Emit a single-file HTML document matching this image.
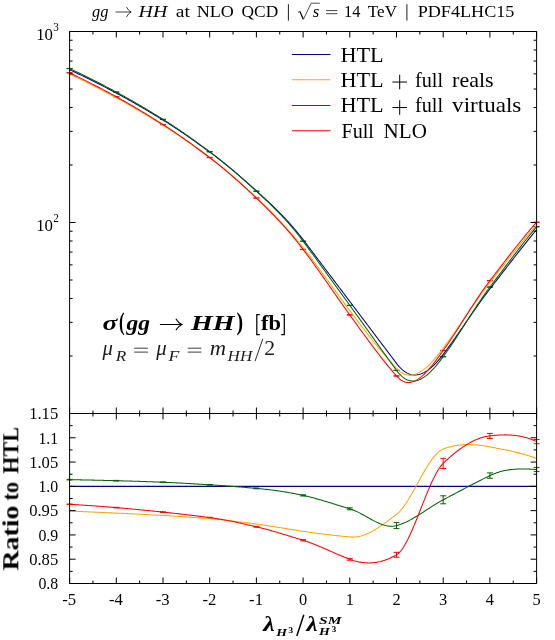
<!DOCTYPE html>
<html><head><meta charset="utf-8"><title>gg to HH</title>
<style>html,body{margin:0;padding:0;background:#fff}body{width:555px;height:640px;overflow:hidden;font-family:"Liberation Serif",serif}</style></head>
<body>
<svg width="555" height="640" viewBox="0 0 555 640" style="display:block">
<rect width="555" height="640" fill="#fff"/>
<g stroke="#006400" stroke-width="1.0" fill="none">
<path d="M69.60 68.43V68.73M66.65 68.43H72.55M66.65 68.73H72.55"/>
<path d="M116.30 91.95V92.25M113.35 91.95H119.25M113.35 92.25H119.25"/>
<path d="M163.00 119.22V119.52M160.05 119.22H165.95M160.05 119.52H165.95"/>
<path d="M209.70 151.60V151.90M206.75 151.60H212.65M206.75 151.90H212.65"/>
<path d="M256.40 191.08V191.38M253.45 191.08H259.35M253.45 191.38H259.35"/>
<path d="M303.10 241.08V241.38M300.15 241.08H306.05M300.15 241.38H306.05"/>
<path d="M349.80 305.24V305.54M346.85 305.24H352.75M346.85 305.54H352.75"/>
<path d="M396.50 370.21V370.51M393.55 370.21H399.45M393.55 370.51H399.45"/>
<path d="M443.20 356.54V356.84M440.25 356.54H446.15M440.25 356.84H446.15"/>
<path d="M489.90 286.95V287.25M486.95 286.95H492.85M486.95 287.25H492.85"/>
<path d="M536.60 226.62V226.92M533.65 226.62H539.55M533.65 226.92H539.55"/>
</g>
<g stroke="#ff0000" stroke-width="1.0" fill="none">
<path d="M69.60 72.69V72.99M66.65 72.69H72.55M66.65 72.99H72.55"/>
<path d="M116.30 96.62V96.92M113.35 96.62H119.25M113.35 96.92H119.25"/>
<path d="M163.00 124.43V124.73M160.05 124.43H165.95M160.05 124.73H165.95"/>
<path d="M209.70 157.38V157.68M206.75 157.38H212.65M206.75 157.68H212.65"/>
<path d="M256.40 197.94V198.24M253.45 197.94H259.35M253.45 198.24H259.35"/>
<path d="M303.10 249.29V249.59M300.15 249.29H306.05M300.15 249.59H306.05"/>
<path d="M349.80 314.81V315.11M346.85 314.81H352.75M346.85 315.11H352.75"/>
<path d="M396.50 375.82V376.12M393.55 375.82H399.45M393.55 376.12H399.45"/>
<path d="M443.20 350.38V350.68M440.25 350.38H446.15M440.25 350.68H446.15"/>
<path d="M489.90 280.57V280.87M486.95 280.57H492.85M486.95 280.87H492.85"/>
<path d="M536.60 222.14V222.44M533.65 222.14H539.55M533.65 222.44H539.55"/>
</g>
<g fill="none" stroke-width="1.05" stroke-linejoin="round">
<path d="M69.60 69.72 L70.60 70.18 L71.60 70.64 L72.59 71.11 L73.59 71.57 L74.59 72.04 L75.59 72.51 L76.59 72.98 L77.58 73.46 L78.58 73.93 L79.58 74.41 L80.58 74.89 L81.57 75.37 L82.57 75.85 L83.57 76.34 L84.57 76.82 L85.57 77.31 L86.56 77.80 L87.56 78.29 L88.56 78.78 L89.56 79.27 L90.56 79.77 L91.55 80.27 L92.55 80.77 L93.55 81.27 L94.55 81.77 L95.54 82.27 L96.54 82.78 L97.54 83.28 L98.54 83.79 L99.54 84.30 L100.53 84.81 L101.53 85.32 L102.53 85.84 L103.53 86.35 L104.53 86.87 L105.52 87.39 L106.52 87.90 L107.52 88.42 L108.52 88.95 L109.51 89.47 L110.51 89.99 L111.51 90.52 L112.51 91.05 L113.51 91.57 L114.50 92.10 L115.50 92.63 L116.50 93.17 L117.50 93.70 L118.50 94.24 L119.49 94.77 L120.49 95.31 L121.49 95.86 L122.49 96.40 L123.48 96.95 L124.48 97.50 L125.48 98.05 L126.48 98.60 L127.48 99.16 L128.47 99.71 L129.47 100.27 L130.47 100.83 L131.47 101.40 L132.47 101.96 L133.46 102.53 L134.46 103.10 L135.46 103.67 L136.46 104.24 L137.45 104.82 L138.45 105.39 L139.45 105.97 L140.45 106.55 L141.45 107.13 L142.44 107.71 L143.44 108.30 L144.44 108.88 L145.44 109.47 L146.44 110.06 L147.43 110.65 L148.43 111.25 L149.43 111.84 L150.43 112.44 L151.42 113.03 L152.42 113.63 L153.42 114.23 L154.42 114.84 L155.42 115.44 L156.41 116.04 L157.41 116.65 L158.41 117.26 L159.41 117.86 L160.41 118.47 L161.40 119.09 L162.40 119.70 L163.40 120.31 L164.40 120.93 L165.39 121.55 L166.39 122.17 L167.39 122.80 L168.39 123.43 L169.39 124.07 L170.38 124.71 L171.38 125.35 L172.38 125.99 L173.38 126.64 L174.38 127.29 L175.37 127.95 L176.37 128.61 L177.37 129.27 L178.37 129.93 L179.36 130.60 L180.36 131.27 L181.36 131.94 L182.36 132.62 L183.36 133.30 L184.35 133.98 L185.35 134.66 L186.35 135.35 L187.35 136.04 L188.35 136.73 L189.34 137.42 L190.34 138.12 L191.34 138.82 L192.34 139.52 L193.34 140.22 L194.33 140.93 L195.33 141.63 L196.33 142.34 L197.33 143.05 L198.32 143.77 L199.32 144.48 L200.32 145.20 L201.32 145.92 L202.32 146.64 L203.31 147.36 L204.31 148.08 L205.31 148.81 L206.31 149.53 L207.31 150.26 L208.30 150.99 L209.30 151.72 L210.30 152.46 L211.30 153.19 L212.29 153.94 L213.29 154.68 L214.29 155.44 L215.29 156.19 L216.29 156.96 L217.28 157.72 L218.28 158.50 L219.28 159.27 L220.28 160.06 L221.28 160.84 L222.27 161.63 L223.27 162.43 L224.27 163.23 L225.27 164.03 L226.26 164.84 L227.26 165.65 L228.26 166.47 L229.26 167.29 L230.26 168.11 L231.25 168.94 L232.25 169.77 L233.25 170.61 L234.25 171.45 L235.25 172.29 L236.24 173.14 L237.24 173.99 L238.24 174.84 L239.24 175.70 L240.23 176.56 L241.23 177.42 L242.23 178.29 L243.23 179.15 L244.23 180.03 L245.22 180.90 L246.22 181.78 L247.22 182.66 L248.22 183.54 L249.22 184.43 L250.21 185.32 L251.21 186.21 L252.21 187.10 L253.21 188.00 L254.20 188.90 L255.20 189.80 L256.20 190.70 L257.20 191.61 L258.20 192.51 L259.19 193.41 L260.19 194.32 L261.19 195.23 L262.19 196.14 L263.19 197.05 L264.18 197.97 L265.18 198.88 L266.18 199.81 L267.18 200.73 L268.17 201.66 L269.17 202.59 L270.17 203.53 L271.17 204.48 L272.17 205.42 L273.16 206.38 L274.16 207.34 L275.16 208.31 L276.16 209.29 L277.16 210.27 L278.15 211.26 L279.15 212.26 L280.15 213.27 L281.15 214.28 L282.14 215.31 L283.14 216.34 L284.14 217.39 L285.14 218.45 L286.14 219.51 L287.13 220.59 L288.13 221.68 L289.13 222.78 L290.13 223.90 L291.13 225.02 L292.12 226.16 L293.12 227.32 L294.12 228.49 L295.12 229.67 L296.11 230.86 L297.11 232.07 L298.11 233.30 L299.11 234.54 L300.11 235.80 L301.10 237.07 L302.10 238.36 L303.10 239.67 L304.10 240.99 L305.10 242.31 L306.09 243.62 L307.09 244.94 L308.09 246.26 L309.09 247.58 L310.09 248.90 L311.08 250.22 L312.08 251.54 L313.08 252.85 L314.08 254.17 L315.07 255.49 L316.07 256.81 L317.07 258.13 L318.07 259.45 L319.07 260.77 L320.06 262.09 L321.06 263.41 L322.06 264.73 L323.06 266.05 L324.06 267.38 L325.05 268.70 L326.05 270.02 L327.05 271.34 L328.05 272.66 L329.04 273.98 L330.04 275.30 L331.04 276.62 L332.04 277.94 L333.04 279.27 L334.03 280.59 L335.03 281.91 L336.03 283.23 L337.03 284.55 L338.03 285.87 L339.02 287.19 L340.02 288.52 L341.02 289.84 L342.02 291.16 L343.01 292.48 L344.01 293.80 L345.01 295.12 L346.01 296.44 L347.01 297.76 L348.00 299.08 L349.00 300.41 L350.00 301.73 L351.00 303.05 L352.00 304.37 L352.99 305.69 L353.99 307.01 L354.99 308.33 L355.99 309.66 L356.98 310.98 L357.98 312.30 L358.98 313.62 L359.98 314.95 L360.98 316.27 L361.97 317.59 L362.97 318.92 L363.97 320.24 L364.97 321.57 L365.97 322.89 L366.96 324.21 L367.96 325.54 L368.96 326.86 L369.96 328.19 L370.95 329.51 L371.95 330.83 L372.95 332.16 L373.95 333.48 L374.95 334.81 L375.94 336.13 L376.94 337.45 L377.94 338.78 L378.94 340.10 L379.94 341.43 L380.93 342.75 L381.93 344.07 L382.93 345.40 L383.93 346.72 L384.92 348.04 L385.92 349.37 L386.92 350.69 L387.92 352.01 L388.92 353.33 L389.91 354.65 L390.91 355.98 L391.91 357.30 L392.91 358.62 L393.91 359.94 L394.90 361.26 L395.90 362.58 L396.90 363.89 L397.90 365.14 L398.89 366.31 L399.89 367.39 L400.89 368.40 L401.89 369.33 L402.89 370.19 L403.88 370.97 L404.88 371.68 L405.88 372.31 L406.88 372.88 L407.88 373.37 L408.87 373.80 L409.87 374.15 L410.87 374.44 L411.87 374.66 L412.86 374.82 L413.86 374.92 L414.86 374.95 L415.86 374.92 L416.86 374.83 L417.85 374.68 L418.85 374.47 L419.85 374.21 L420.85 373.89 L421.85 373.51 L422.84 373.08 L423.84 372.60 L424.84 372.06 L425.84 371.48 L426.84 370.84 L427.83 370.16 L428.83 369.43 L429.83 368.66 L430.83 367.84 L431.82 366.97 L432.82 366.06 L433.82 365.12 L434.82 364.13 L435.82 363.10 L436.81 362.03 L437.81 360.92 L438.81 359.78 L439.81 358.61 L440.81 357.40 L441.80 356.15 L442.80 354.88 L443.80 353.58 L444.80 352.26 L445.79 350.93 L446.79 349.59 L447.79 348.24 L448.79 346.88 L449.79 345.50 L450.78 344.12 L451.78 342.73 L452.78 341.33 L453.78 339.93 L454.78 338.51 L455.77 337.09 L456.77 335.67 L457.77 334.24 L458.77 332.80 L459.76 331.36 L460.76 329.92 L461.76 328.47 L462.76 327.03 L463.76 325.58 L464.75 324.12 L465.75 322.67 L466.75 321.22 L467.75 319.77 L468.75 318.32 L469.74 316.87 L470.74 315.43 L471.74 313.98 L472.74 312.54 L473.73 311.11 L474.73 309.68 L475.73 308.25 L476.73 306.83 L477.73 305.42 L478.72 304.01 L479.72 302.61 L480.72 301.22 L481.72 299.84 L482.72 298.47 L483.71 297.11 L484.71 295.76 L485.71 294.42 L486.71 293.09 L487.70 291.77 L488.70 290.47 L489.70 289.18 L490.70 287.90 L491.70 286.61 L492.69 285.33 L493.69 284.04 L494.69 282.76 L495.69 281.47 L496.69 280.18 L497.68 278.89 L498.68 277.60 L499.68 276.31 L500.68 275.02 L501.67 273.73 L502.67 272.44 L503.67 271.15 L504.67 269.86 L505.67 268.57 L506.66 267.28 L507.66 266.00 L508.66 264.71 L509.66 263.42 L510.66 262.14 L511.65 260.85 L512.65 259.57 L513.65 258.29 L514.65 257.01 L515.64 255.73 L516.64 254.46 L517.64 253.18 L518.64 251.91 L519.64 250.65 L520.63 249.38 L521.63 248.12 L522.63 246.86 L523.63 245.60 L524.63 244.35 L525.62 243.09 L526.62 241.85 L527.62 240.60 L528.62 239.36 L529.61 238.13 L530.61 236.90 L531.61 235.67 L532.61 234.44 L533.61 233.23 L534.60 232.01 L535.60 230.80 L536.60 229.60" stroke="#00008b"/>
<path d="M69.60 74.06 L70.60 74.53 L71.60 74.99 L72.59 75.47 L73.59 75.94 L74.59 76.41 L75.59 76.89 L76.59 77.37 L77.58 77.85 L78.58 78.33 L79.58 78.82 L80.58 79.30 L81.57 79.79 L82.57 80.28 L83.57 80.77 L84.57 81.27 L85.57 81.76 L86.56 82.26 L87.56 82.76 L88.56 83.26 L89.56 83.76 L90.56 84.26 L91.55 84.77 L92.55 85.27 L93.55 85.78 L94.55 86.29 L95.54 86.80 L96.54 87.31 L97.54 87.83 L98.54 88.34 L99.54 88.86 L100.53 89.38 L101.53 89.90 L102.53 90.42 L103.53 90.94 L104.53 91.47 L105.52 92.00 L106.52 92.52 L107.52 93.05 L108.52 93.58 L109.51 94.11 L110.51 94.64 L111.51 95.18 L112.51 95.71 L113.51 96.25 L114.50 96.79 L115.50 97.33 L116.50 97.87 L117.50 98.41 L118.50 98.95 L119.49 99.50 L120.49 100.05 L121.49 100.60 L122.49 101.15 L123.48 101.71 L124.48 102.26 L125.48 102.82 L126.48 103.39 L127.48 103.95 L128.47 104.52 L129.47 105.09 L130.47 105.66 L131.47 106.23 L132.47 106.80 L133.46 107.38 L134.46 107.96 L135.46 108.54 L136.46 109.12 L137.45 109.70 L138.45 110.29 L139.45 110.88 L140.45 111.46 L141.45 112.06 L142.44 112.65 L143.44 113.24 L144.44 113.84 L145.44 114.44 L146.44 115.04 L147.43 115.64 L148.43 116.24 L149.43 116.84 L150.43 117.45 L151.42 118.06 L152.42 118.66 L153.42 119.27 L154.42 119.89 L155.42 120.50 L156.41 121.11 L157.41 121.73 L158.41 122.34 L159.41 122.96 L160.41 123.58 L161.40 124.20 L162.40 124.82 L163.40 125.45 L164.40 126.07 L165.39 126.70 L166.39 127.34 L167.39 127.98 L168.39 128.62 L169.39 129.26 L170.38 129.91 L171.38 130.57 L172.38 131.22 L173.38 131.88 L174.38 132.54 L175.37 133.21 L176.37 133.88 L177.37 134.55 L178.37 135.23 L179.36 135.91 L180.36 136.59 L181.36 137.27 L182.36 137.96 L183.36 138.65 L184.35 139.35 L185.35 140.04 L186.35 140.74 L187.35 141.44 L188.35 142.15 L189.34 142.85 L190.34 143.56 L191.34 144.27 L192.34 144.99 L193.34 145.70 L194.33 146.42 L195.33 147.14 L196.33 147.87 L197.33 148.59 L198.32 149.32 L199.32 150.05 L200.32 150.78 L201.32 151.51 L202.32 152.24 L203.31 152.98 L204.31 153.72 L205.31 154.46 L206.31 155.20 L207.31 155.94 L208.30 156.69 L209.30 157.43 L210.30 158.18 L211.30 158.93 L212.29 159.69 L213.29 160.46 L214.29 161.22 L215.29 162.00 L216.29 162.78 L217.28 163.56 L218.28 164.35 L219.28 165.15 L220.28 165.94 L221.28 166.75 L222.27 167.56 L223.27 168.37 L224.27 169.19 L225.27 170.01 L226.26 170.84 L227.26 171.67 L228.26 172.51 L229.26 173.35 L230.26 174.19 L231.25 175.04 L232.25 175.89 L233.25 176.75 L234.25 177.61 L235.25 178.47 L236.24 179.34 L237.24 180.21 L238.24 181.09 L239.24 181.97 L240.23 182.85 L241.23 183.73 L242.23 184.62 L243.23 185.52 L244.23 186.41 L245.22 187.31 L246.22 188.21 L247.22 189.12 L248.22 190.03 L249.22 190.94 L250.21 191.85 L251.21 192.77 L252.21 193.69 L253.21 194.61 L254.20 195.54 L255.20 196.47 L256.20 197.40 L257.20 198.33 L258.20 199.27 L259.19 200.21 L260.19 201.15 L261.19 202.11 L262.19 203.06 L263.19 204.02 L264.18 204.99 L265.18 205.96 L266.18 206.93 L267.18 207.91 L268.17 208.90 L269.17 209.89 L270.17 210.89 L271.17 211.89 L272.17 212.90 L273.16 213.92 L274.16 214.94 L275.16 215.97 L276.16 217.00 L277.16 218.04 L278.15 219.09 L279.15 220.14 L280.15 221.20 L281.15 222.27 L282.14 223.34 L283.14 224.43 L284.14 225.51 L285.14 226.61 L286.14 227.71 L287.13 228.83 L288.13 229.94 L289.13 231.07 L290.13 232.21 L291.13 233.35 L292.12 234.50 L293.12 235.66 L294.12 236.82 L295.12 238.00 L296.11 239.19 L297.11 240.38 L298.11 241.58 L299.11 242.79 L300.11 244.01 L301.10 245.24 L302.10 246.48 L303.10 247.73 L304.10 248.98 L305.10 250.25 L306.09 251.52 L307.09 252.80 L308.09 254.09 L309.09 255.38 L310.09 256.68 L311.08 257.99 L312.08 259.31 L313.08 260.62 L314.08 261.95 L315.07 263.28 L316.07 264.62 L317.07 265.95 L318.07 267.30 L319.07 268.65 L320.06 270.00 L321.06 271.35 L322.06 272.71 L323.06 274.07 L324.06 275.44 L325.05 276.80 L326.05 278.17 L327.05 279.54 L328.05 280.91 L329.04 282.29 L330.04 283.66 L331.04 285.03 L332.04 286.41 L333.04 287.78 L334.03 289.16 L335.03 290.53 L336.03 291.90 L337.03 293.27 L338.03 294.64 L339.02 296.01 L340.02 297.38 L341.02 298.74 L342.02 300.10 L343.01 301.46 L344.01 302.82 L345.01 304.17 L346.01 305.51 L347.01 306.86 L348.00 308.20 L349.00 309.53 L350.00 310.86 L351.00 312.19 L352.00 313.51 L352.99 314.84 L353.99 316.16 L354.99 317.48 L355.99 318.80 L356.98 320.12 L357.98 321.44 L358.98 322.75 L359.98 324.06 L360.98 325.36 L361.97 326.67 L362.97 327.97 L363.97 329.26 L364.97 330.56 L365.97 331.85 L366.96 333.13 L367.96 334.41 L368.96 335.69 L369.96 336.96 L370.95 338.22 L371.95 339.49 L372.95 340.74 L373.95 341.99 L374.95 343.23 L375.94 344.47 L376.94 345.70 L377.94 346.93 L378.94 348.15 L379.94 349.36 L380.93 350.57 L381.93 351.76 L382.93 352.95 L383.93 354.14 L384.92 355.31 L385.92 356.48 L386.92 357.64 L387.92 358.79 L388.92 359.93 L389.91 361.06 L390.91 362.19 L391.91 363.30 L392.91 364.41 L393.91 365.50 L394.90 366.59 L395.90 367.66 L396.90 368.72 L397.90 369.71 L398.89 370.60 L399.89 371.41 L400.89 372.14 L401.89 372.78 L402.89 373.35 L403.88 373.83 L404.88 374.24 L405.88 374.57 L406.88 374.82 L407.88 375.01 L408.87 375.12 L409.87 375.16 L410.87 375.14 L411.87 375.05 L412.86 374.89 L413.86 374.68 L414.86 374.40 L415.86 374.06 L416.86 373.67 L417.85 373.22 L418.85 372.71 L419.85 372.16 L420.85 371.55 L421.85 370.89 L422.84 370.19 L423.84 369.44 L424.84 368.65 L425.84 367.81 L426.84 366.93 L427.83 366.02 L428.83 365.06 L429.83 364.08 L430.83 363.05 L431.82 362.00 L432.82 360.91 L433.82 359.80 L434.82 358.65 L435.82 357.49 L436.81 356.30 L437.81 355.08 L438.81 353.85 L439.81 352.59 L440.81 351.32 L441.80 350.04 L442.80 348.74 L443.80 347.42 L444.80 346.10 L445.79 344.76 L446.79 343.41 L447.79 342.04 L448.79 340.66 L449.79 339.28 L450.78 337.88 L451.78 336.47 L452.78 335.06 L453.78 333.64 L454.78 332.21 L455.77 330.77 L456.77 329.32 L457.77 327.88 L458.77 326.42 L459.76 324.97 L460.76 323.50 L461.76 322.04 L462.76 320.58 L463.76 319.11 L464.75 317.64 L465.75 316.17 L466.75 314.71 L467.75 313.24 L468.75 311.78 L469.74 310.32 L470.74 308.86 L471.74 307.41 L472.74 305.96 L473.73 304.51 L474.73 303.08 L475.73 301.65 L476.73 300.22 L477.73 298.81 L478.72 297.40 L479.72 296.00 L480.72 294.62 L481.72 293.24 L482.72 291.87 L483.71 290.52 L484.71 289.18 L485.71 287.85 L486.71 286.54 L487.70 285.24 L488.70 283.96 L489.70 282.69 L490.70 281.44 L491.70 280.18 L492.69 278.92 L493.69 277.66 L494.69 276.40 L495.69 275.14 L496.69 273.88 L497.68 272.62 L498.68 271.36 L499.68 270.10 L500.68 268.84 L501.67 267.58 L502.67 266.32 L503.67 265.06 L504.67 263.80 L505.67 262.54 L506.66 261.28 L507.66 260.03 L508.66 258.78 L509.66 257.52 L510.66 256.27 L511.65 255.03 L512.65 253.78 L513.65 252.54 L514.65 251.30 L515.64 250.06 L516.64 248.82 L517.64 247.59 L518.64 246.36 L519.64 245.14 L520.63 243.92 L521.63 242.70 L522.63 241.48 L523.63 240.27 L524.63 239.07 L525.62 237.87 L526.62 236.67 L527.62 235.48 L528.62 234.29 L529.61 233.11 L530.61 231.93 L531.61 230.76 L532.61 229.59 L533.61 228.43 L534.60 227.28 L535.60 226.13 L536.60 224.99" stroke="#ffa500"/>
<path d="M69.60 68.58 L70.60 69.05 L71.60 69.51 L72.59 69.98 L73.59 70.45 L74.59 70.92 L75.59 71.39 L76.59 71.87 L77.58 72.34 L78.58 72.82 L79.58 73.30 L80.58 73.79 L81.57 74.27 L82.57 74.76 L83.57 75.24 L84.57 75.73 L85.57 76.22 L86.56 76.72 L87.56 77.21 L88.56 77.71 L89.56 78.20 L90.56 78.70 L91.55 79.20 L92.55 79.71 L93.55 80.21 L94.55 80.72 L95.54 81.22 L96.54 81.73 L97.54 82.24 L98.54 82.75 L99.54 83.27 L100.53 83.78 L101.53 84.30 L102.53 84.82 L103.53 85.34 L104.53 85.86 L105.52 86.38 L106.52 86.90 L107.52 87.43 L108.52 87.95 L109.51 88.48 L110.51 89.01 L111.51 89.54 L112.51 90.07 L113.51 90.60 L114.50 91.14 L115.50 91.67 L116.50 92.21 L117.50 92.74 L118.50 93.28 L119.49 93.83 L120.49 94.37 L121.49 94.92 L122.49 95.47 L123.48 96.02 L124.48 96.57 L125.48 97.13 L126.48 97.69 L127.48 98.25 L128.47 98.81 L129.47 99.37 L130.47 99.94 L131.47 100.51 L132.47 101.08 L133.46 101.65 L134.46 102.23 L135.46 102.80 L136.46 103.38 L137.45 103.96 L138.45 104.54 L139.45 105.12 L140.45 105.71 L141.45 106.30 L142.44 106.89 L143.44 107.48 L144.44 108.07 L145.44 108.66 L146.44 109.26 L147.43 109.86 L148.43 110.45 L149.43 111.05 L150.43 111.66 L151.42 112.26 L152.42 112.87 L153.42 113.47 L154.42 114.08 L155.42 114.69 L156.41 115.30 L157.41 115.91 L158.41 116.53 L159.41 117.14 L160.41 117.76 L161.40 118.38 L162.40 119.00 L163.40 119.62 L164.40 120.24 L165.39 120.87 L166.39 121.50 L167.39 122.13 L168.39 122.77 L169.39 123.42 L170.38 124.06 L171.38 124.71 L172.38 125.37 L173.38 126.02 L174.38 126.68 L175.37 127.35 L176.37 128.02 L177.37 128.69 L178.37 129.36 L179.36 130.03 L180.36 130.71 L181.36 131.40 L182.36 132.08 L183.36 132.77 L184.35 133.46 L185.35 134.15 L186.35 134.85 L187.35 135.55 L188.35 136.25 L189.34 136.95 L190.34 137.66 L191.34 138.37 L192.34 139.08 L193.34 139.79 L194.33 140.51 L195.33 141.22 L196.33 141.94 L197.33 142.66 L198.32 143.39 L199.32 144.11 L200.32 144.84 L201.32 145.57 L202.32 146.30 L203.31 147.03 L204.31 147.76 L205.31 148.50 L206.31 149.24 L207.31 149.97 L208.30 150.71 L209.30 151.45 L210.30 152.20 L211.30 152.94 L212.29 153.70 L213.29 154.45 L214.29 155.22 L215.29 155.99 L216.29 156.76 L217.28 157.54 L218.28 158.32 L219.28 159.11 L220.28 159.91 L221.28 160.70 L222.27 161.51 L223.27 162.31 L224.27 163.13 L225.27 163.94 L226.26 164.76 L227.26 165.59 L228.26 166.42 L229.26 167.25 L230.26 168.09 L231.25 168.93 L232.25 169.78 L233.25 170.62 L234.25 171.48 L235.25 172.33 L236.24 173.19 L237.24 174.06 L238.24 174.93 L239.24 175.80 L240.23 176.67 L241.23 177.55 L242.23 178.43 L243.23 179.31 L244.23 180.20 L245.22 181.09 L246.22 181.98 L247.22 182.88 L248.22 183.77 L249.22 184.67 L250.21 185.58 L251.21 186.48 L252.21 187.39 L253.21 188.30 L254.20 189.22 L255.20 190.13 L256.20 191.05 L257.20 191.97 L258.20 192.89 L259.19 193.81 L260.19 194.73 L261.19 195.66 L262.19 196.58 L263.19 197.52 L264.18 198.45 L265.18 199.39 L266.18 200.33 L267.18 201.28 L268.17 202.23 L269.17 203.18 L270.17 204.14 L271.17 205.11 L272.17 206.08 L273.16 207.06 L274.16 208.05 L275.16 209.04 L276.16 210.04 L277.16 211.05 L278.15 212.07 L279.15 213.09 L280.15 214.13 L281.15 215.17 L282.14 216.23 L283.14 217.29 L284.14 218.37 L285.14 219.45 L286.14 220.55 L287.13 221.65 L288.13 222.77 L289.13 223.91 L290.13 225.05 L291.13 226.21 L292.12 227.38 L293.12 228.56 L294.12 229.76 L295.12 230.97 L296.11 232.20 L297.11 233.44 L298.11 234.70 L299.11 235.97 L300.11 237.26 L301.10 238.57 L302.10 239.89 L303.10 241.23 L304.10 242.58 L305.10 243.93 L306.09 245.29 L307.09 246.64 L308.09 248.00 L309.09 249.36 L310.09 250.71 L311.08 252.07 L312.08 253.44 L313.08 254.80 L314.08 256.16 L315.07 257.53 L316.07 258.90 L317.07 260.26 L318.07 261.63 L319.07 263.00 L320.06 264.37 L321.06 265.75 L322.06 267.12 L323.06 268.49 L324.06 269.87 L325.05 271.24 L326.05 272.62 L327.05 273.99 L328.05 275.37 L329.04 276.74 L330.04 278.12 L331.04 279.50 L332.04 280.88 L333.04 282.25 L334.03 283.63 L335.03 285.01 L336.03 286.39 L337.03 287.77 L338.03 289.14 L339.02 290.52 L340.02 291.90 L341.02 293.28 L342.02 294.66 L343.01 296.03 L344.01 297.41 L345.01 298.79 L346.01 300.16 L347.01 301.54 L348.00 302.91 L349.00 304.29 L350.00 305.66 L351.00 307.04 L352.00 308.41 L352.99 309.79 L353.99 311.17 L354.99 312.56 L355.99 313.94 L356.98 315.33 L357.98 316.72 L358.98 318.11 L359.98 319.50 L360.98 320.89 L361.97 322.28 L362.97 323.68 L363.97 325.07 L364.97 326.47 L365.97 327.86 L366.96 329.26 L367.96 330.66 L368.96 332.06 L369.96 333.45 L370.95 334.85 L371.95 336.25 L372.95 337.65 L373.95 339.05 L374.95 340.44 L375.94 341.84 L376.94 343.24 L377.94 344.63 L378.94 346.03 L379.94 347.43 L380.93 348.82 L381.93 350.21 L382.93 351.60 L383.93 352.99 L384.92 354.38 L385.92 355.77 L386.92 357.16 L387.92 358.54 L388.92 359.92 L389.91 361.30 L390.91 362.68 L391.91 364.06 L392.91 365.43 L393.91 366.80 L394.90 368.17 L395.90 369.54 L396.90 370.90 L397.90 372.18 L398.89 373.36 L399.89 374.45 L400.89 375.46 L401.89 376.37 L402.89 377.20 L403.88 377.94 L404.88 378.59 L405.88 379.17 L406.88 379.66 L407.88 380.08 L408.87 380.42 L409.87 380.68 L410.87 380.86 L411.87 380.98 L412.86 381.02 L413.86 380.99 L414.86 380.90 L415.86 380.74 L416.86 380.51 L417.85 380.23 L418.85 379.88 L419.85 379.47 L420.85 379.00 L421.85 378.47 L422.84 377.90 L423.84 377.26 L424.84 376.58 L425.84 375.84 L426.84 375.06 L427.83 374.23 L428.83 373.35 L429.83 372.43 L430.83 371.47 L431.82 370.47 L432.82 369.43 L433.82 368.35 L434.82 367.24 L435.82 366.09 L436.81 364.91 L437.81 363.70 L438.81 362.46 L439.81 361.19 L440.81 359.89 L441.80 358.57 L442.80 357.23 L443.80 355.87 L444.80 354.49 L445.79 353.09 L446.79 351.68 L447.79 350.25 L448.79 348.81 L449.79 347.35 L450.78 345.88 L451.78 344.40 L452.78 342.91 L453.78 341.41 L454.78 339.90 L455.77 338.38 L456.77 336.85 L457.77 335.32 L458.77 333.78 L459.76 332.23 L460.76 330.68 L461.76 329.13 L462.76 327.57 L463.76 326.01 L464.75 324.45 L465.75 322.89 L466.75 321.33 L467.75 319.77 L468.75 318.21 L469.74 316.65 L470.74 315.10 L471.74 313.56 L472.74 312.01 L473.73 310.48 L474.73 308.95 L475.73 307.43 L476.73 305.91 L477.73 304.41 L478.72 302.91 L479.72 301.43 L480.72 299.96 L481.72 298.50 L482.72 297.05 L483.71 295.62 L484.71 294.20 L485.71 292.80 L486.71 291.42 L487.70 290.05 L488.70 288.70 L489.70 287.37 L490.70 286.05 L491.70 284.73 L492.69 283.41 L493.69 282.09 L494.69 280.76 L495.69 279.44 L496.69 278.11 L497.68 276.79 L498.68 275.46 L499.68 274.14 L500.68 272.81 L501.67 271.49 L502.67 270.16 L503.67 268.84 L504.67 267.51 L505.67 266.19 L506.66 264.87 L507.66 263.55 L508.66 262.23 L509.66 260.91 L510.66 259.60 L511.65 258.29 L512.65 256.98 L513.65 255.67 L514.65 254.37 L515.64 253.06 L516.64 251.77 L517.64 250.47 L518.64 249.18 L519.64 247.89 L520.63 246.61 L521.63 245.33 L522.63 244.05 L523.63 242.78 L524.63 241.52 L525.62 240.26 L526.62 239.00 L527.62 237.75 L528.62 236.51 L529.61 235.27 L530.61 234.03 L531.61 232.81 L532.61 231.58 L533.61 230.37 L534.60 229.16 L535.60 227.96 L536.60 226.77" stroke="#006400"/>
<path d="M69.60 72.84 L70.60 73.31 L71.60 73.79 L72.59 74.26 L73.59 74.74 L74.59 75.22 L75.59 75.70 L76.59 76.18 L77.58 76.66 L78.58 77.15 L79.58 77.64 L80.58 78.13 L81.57 78.62 L82.57 79.11 L83.57 79.61 L84.57 80.11 L85.57 80.61 L86.56 81.11 L87.56 81.61 L88.56 82.11 L89.56 82.62 L90.56 83.13 L91.55 83.64 L92.55 84.15 L93.55 84.66 L94.55 85.18 L95.54 85.69 L96.54 86.21 L97.54 86.73 L98.54 87.25 L99.54 87.77 L100.53 88.30 L101.53 88.82 L102.53 89.35 L103.53 89.88 L104.53 90.41 L105.52 90.94 L106.52 91.47 L107.52 92.01 L108.52 92.54 L109.51 93.08 L110.51 93.62 L111.51 94.16 L112.51 94.70 L113.51 95.24 L114.50 95.79 L115.50 96.33 L116.50 96.88 L117.50 97.43 L118.50 97.98 L119.49 98.53 L120.49 99.09 L121.49 99.65 L122.49 100.21 L123.48 100.77 L124.48 101.33 L125.48 101.90 L126.48 102.47 L127.48 103.04 L128.47 103.62 L129.47 104.19 L130.47 104.77 L131.47 105.35 L132.47 105.93 L133.46 106.52 L134.46 107.10 L135.46 107.69 L136.46 108.28 L137.45 108.87 L138.45 109.47 L139.45 110.06 L140.45 110.66 L141.45 111.26 L142.44 111.86 L143.44 112.46 L144.44 113.07 L145.44 113.67 L146.44 114.28 L147.43 114.89 L148.43 115.50 L149.43 116.11 L150.43 116.73 L151.42 117.34 L152.42 117.96 L153.42 118.58 L154.42 119.20 L155.42 119.82 L156.41 120.44 L157.41 121.07 L158.41 121.69 L159.41 122.32 L160.41 122.95 L161.40 123.57 L162.40 124.20 L163.40 124.84 L164.40 125.47 L165.39 126.11 L166.39 126.75 L167.39 127.40 L168.39 128.05 L169.39 128.70 L170.38 129.36 L171.38 130.02 L172.38 130.69 L173.38 131.35 L174.38 132.02 L175.37 132.70 L176.37 133.38 L177.37 134.06 L178.37 134.74 L179.36 135.43 L180.36 136.12 L181.36 136.81 L182.36 137.51 L183.36 138.21 L184.35 138.91 L185.35 139.62 L186.35 140.32 L187.35 141.03 L188.35 141.75 L189.34 142.46 L190.34 143.18 L191.34 143.90 L192.34 144.62 L193.34 145.35 L194.33 146.08 L195.33 146.81 L196.33 147.54 L197.33 148.27 L198.32 149.01 L199.32 149.75 L200.32 150.49 L201.32 151.23 L202.32 151.97 L203.31 152.72 L204.31 153.47 L205.31 154.22 L206.31 154.97 L207.31 155.72 L208.30 156.47 L209.30 157.23 L210.30 157.99 L211.30 158.75 L212.29 159.52 L213.29 160.29 L214.29 161.07 L215.29 161.86 L216.29 162.65 L217.28 163.45 L218.28 164.25 L219.28 165.06 L220.28 165.87 L221.28 166.69 L222.27 167.51 L223.27 168.34 L224.27 169.17 L225.27 170.01 L226.26 170.85 L227.26 171.70 L228.26 172.55 L229.26 173.40 L230.26 174.26 L231.25 175.13 L232.25 176.00 L233.25 176.87 L234.25 177.75 L235.25 178.63 L236.24 179.51 L237.24 180.40 L238.24 181.29 L239.24 182.19 L240.23 183.09 L241.23 183.99 L242.23 184.90 L243.23 185.81 L244.23 186.72 L245.22 187.64 L246.22 188.56 L247.22 189.48 L248.22 190.41 L249.22 191.33 L250.21 192.27 L251.21 193.20 L252.21 194.13 L253.21 195.07 L254.20 196.01 L255.20 196.96 L256.20 197.90 L257.20 198.85 L258.20 199.80 L259.19 200.76 L260.19 201.72 L261.19 202.69 L262.19 203.65 L263.19 204.63 L264.18 205.61 L265.18 206.59 L266.18 207.58 L267.18 208.57 L268.17 209.57 L269.17 210.58 L270.17 211.59 L271.17 212.61 L272.17 213.63 L273.16 214.66 L274.16 215.70 L275.16 216.75 L276.16 217.80 L277.16 218.85 L278.15 219.92 L279.15 220.99 L280.15 222.07 L281.15 223.16 L282.14 224.26 L283.14 225.36 L284.14 226.47 L285.14 227.60 L286.14 228.73 L287.13 229.86 L288.13 231.01 L289.13 232.17 L290.13 233.34 L291.13 234.51 L292.12 235.70 L293.12 236.89 L294.12 238.10 L295.12 239.32 L296.11 240.54 L297.11 241.78 L298.11 243.03 L299.11 244.29 L300.11 245.56 L301.10 246.84 L302.10 248.13 L303.10 249.44 L304.10 250.75 L305.10 252.08 L306.09 253.41 L307.09 254.74 L308.09 256.09 L309.09 257.44 L310.09 258.80 L311.08 260.16 L312.08 261.53 L313.08 262.91 L314.08 264.29 L315.07 265.68 L316.07 267.07 L317.07 268.46 L318.07 269.86 L319.07 271.27 L320.06 272.68 L321.06 274.09 L322.06 275.50 L323.06 276.92 L324.06 278.34 L325.05 279.76 L326.05 281.19 L327.05 282.61 L328.05 284.04 L329.04 285.47 L330.04 286.90 L331.04 288.33 L332.04 289.76 L333.04 291.19 L334.03 292.62 L335.03 294.05 L336.03 295.48 L337.03 296.90 L338.03 298.33 L339.02 299.76 L340.02 301.18 L341.02 302.60 L342.02 304.02 L343.01 305.43 L344.01 306.84 L345.01 308.25 L346.01 309.66 L347.01 311.06 L348.00 312.46 L349.00 313.85 L350.00 315.24 L351.00 316.62 L352.00 318.01 L352.99 319.40 L353.99 320.78 L354.99 322.17 L355.99 323.55 L356.98 324.93 L357.98 326.31 L358.98 327.69 L359.98 329.07 L360.98 330.45 L361.97 331.82 L362.97 333.19 L363.97 334.55 L364.97 335.92 L365.97 337.28 L366.96 338.63 L367.96 339.99 L368.96 341.34 L369.96 342.68 L370.95 344.02 L371.95 345.35 L372.95 346.68 L373.95 348.01 L374.95 349.32 L375.94 350.64 L376.94 351.94 L377.94 353.24 L378.94 354.54 L379.94 355.82 L380.93 357.10 L381.93 358.38 L382.93 359.64 L383.93 360.90 L384.92 362.15 L385.92 363.39 L386.92 364.62 L387.92 365.84 L388.92 367.06 L389.91 368.26 L390.91 369.46 L391.91 370.65 L392.91 371.82 L393.91 372.99 L394.90 374.14 L395.90 375.29 L396.90 376.42 L397.90 377.45 L398.89 378.39 L399.89 379.22 L400.89 379.95 L401.89 380.58 L402.89 381.12 L403.88 381.57 L404.88 381.92 L405.88 382.19 L406.88 382.37 L407.88 382.47 L408.87 382.49 L409.87 382.42 L410.87 382.29 L411.87 382.07 L412.86 381.79 L413.86 381.43 L414.86 381.01 L415.86 380.52 L416.86 379.97 L417.85 379.36 L418.85 378.69 L419.85 377.96 L420.85 377.18 L421.85 376.35 L422.84 375.47 L423.84 374.54 L424.84 373.57 L425.84 372.56 L426.84 371.50 L427.83 370.41 L428.83 369.28 L429.83 368.12 L430.83 366.93 L431.82 365.71 L432.82 364.47 L433.82 363.20 L434.82 361.91 L435.82 360.60 L436.81 359.27 L437.81 357.93 L438.81 356.58 L439.81 355.21 L440.81 353.84 L441.80 352.46 L442.80 351.08 L443.80 349.70 L444.80 348.30 L445.79 346.88 L446.79 345.45 L447.79 344.00 L448.79 342.54 L449.79 341.07 L450.78 339.58 L451.78 338.08 L452.78 336.58 L453.78 335.06 L454.78 333.53 L455.77 332.00 L456.77 330.46 L457.77 328.91 L458.77 327.35 L459.76 325.80 L460.76 324.23 L461.76 322.67 L462.76 321.10 L463.76 319.53 L464.75 317.96 L465.75 316.39 L466.75 314.83 L467.75 313.26 L468.75 311.70 L469.74 310.14 L470.74 308.58 L471.74 307.03 L472.74 305.49 L473.73 303.95 L474.73 302.42 L475.73 300.90 L476.73 299.39 L477.73 297.89 L478.72 296.40 L479.72 294.92 L480.72 293.46 L481.72 292.01 L482.72 290.57 L483.71 289.15 L484.71 287.74 L485.71 286.35 L486.71 284.98 L487.70 283.63 L488.70 282.30 L489.70 280.98 L490.70 279.68 L491.70 278.38 L492.69 277.08 L493.69 275.78 L494.69 274.48 L495.69 273.18 L496.69 271.88 L497.68 270.58 L498.68 269.28 L499.68 267.99 L500.68 266.69 L501.67 265.39 L502.67 264.10 L503.67 262.80 L504.67 261.51 L505.67 260.22 L506.66 258.93 L507.66 257.65 L508.66 256.37 L509.66 255.09 L510.66 253.81 L511.65 252.53 L512.65 251.26 L513.65 250.00 L514.65 248.73 L515.64 247.47 L516.64 246.22 L517.64 244.97 L518.64 243.72 L519.64 242.48 L520.63 241.24 L521.63 240.01 L522.63 238.79 L523.63 237.57 L524.63 236.35 L525.62 235.14 L526.62 233.94 L527.62 232.74 L528.62 231.55 L529.61 230.37 L530.61 229.19 L531.61 228.02 L532.61 226.86 L533.61 225.70 L534.60 224.56 L535.60 223.42 L536.60 222.29" stroke="#ff0000"/>
</g>
<g stroke="#006400" stroke-width="1.0" fill="none">
<path d="M69.60 479.35V479.95M66.65 479.35H72.55M66.65 479.95H72.55"/>
<path d="M116.30 480.40V481.00M113.35 480.40H119.25M113.35 481.00H119.25"/>
<path d="M163.00 481.95V482.55M160.05 481.95H165.95M160.05 482.55H165.95"/>
<path d="M209.70 484.50V485.10M206.75 484.50H212.65M206.75 485.10H212.65"/>
<path d="M256.40 488.00V488.80M253.45 488.00H259.35M253.45 488.80H259.35"/>
<path d="M303.10 494.80V496.00M300.15 494.80H306.05M300.15 496.00H306.05"/>
<path d="M349.80 507.80V509.80M346.85 507.80H352.75M346.85 509.80H352.75"/>
<path d="M396.50 522.60V528.60M393.55 522.60H399.45M393.55 528.60H399.45"/>
<path d="M443.20 495.80V503.80M440.25 495.80H446.15M440.25 503.80H446.15"/>
<path d="M489.90 472.90V478.30M486.95 472.90H492.85M486.95 478.30H492.85"/>
<path d="M536.60 467.40V471.60M533.65 467.40H539.55M533.65 471.60H539.55"/>
</g>
<g stroke="#ff0000" stroke-width="1.0" fill="none">
<path d="M69.60 504.00V504.60M66.65 504.00H72.55M66.65 504.60H72.55"/>
<path d="M116.30 507.30V507.90M113.35 507.30H119.25M113.35 507.90H119.25"/>
<path d="M163.00 511.80V512.40M160.05 511.80H165.95M160.05 512.40H165.95"/>
<path d="M209.70 517.30V517.90M206.75 517.30H212.65M206.75 517.90H212.65"/>
<path d="M256.40 526.40V527.20M253.45 526.40H259.35M253.45 527.20H259.35"/>
<path d="M303.10 539.70V540.90M300.15 539.70H306.05M300.15 540.90H306.05"/>
<path d="M349.80 558.40V560.20M346.85 558.40H352.75M346.85 560.20H352.75"/>
<path d="M396.50 552.35V557.25M393.55 552.35H399.45M393.55 557.25H399.45"/>
<path d="M443.20 458.30V468.50M440.25 458.30H446.15M440.25 468.50H446.15"/>
<path d="M489.90 433.40V438.40M486.95 433.40H492.85M486.95 438.40H492.85"/>
<path d="M536.60 439.50V443.70M533.65 439.50H539.55M533.65 443.70H539.55"/>
</g>
<g fill="none" stroke-width="1.05" stroke-linejoin="round">
<path d="M69.60 486.36 L70.60 486.36 L71.60 486.36 L72.59 486.36 L73.59 486.36 L74.59 486.36 L75.59 486.36 L76.59 486.36 L77.58 486.36 L78.58 486.36 L79.58 486.36 L80.58 486.36 L81.57 486.36 L82.57 486.36 L83.57 486.36 L84.57 486.36 L85.57 486.36 L86.56 486.36 L87.56 486.36 L88.56 486.36 L89.56 486.36 L90.56 486.36 L91.55 486.36 L92.55 486.36 L93.55 486.36 L94.55 486.36 L95.54 486.36 L96.54 486.36 L97.54 486.36 L98.54 486.36 L99.54 486.36 L100.53 486.36 L101.53 486.36 L102.53 486.36 L103.53 486.36 L104.53 486.36 L105.52 486.36 L106.52 486.36 L107.52 486.36 L108.52 486.36 L109.51 486.36 L110.51 486.36 L111.51 486.36 L112.51 486.36 L113.51 486.36 L114.50 486.36 L115.50 486.36 L116.50 486.36 L117.50 486.36 L118.50 486.36 L119.49 486.36 L120.49 486.36 L121.49 486.36 L122.49 486.36 L123.48 486.36 L124.48 486.36 L125.48 486.36 L126.48 486.36 L127.48 486.36 L128.47 486.36 L129.47 486.36 L130.47 486.36 L131.47 486.36 L132.47 486.36 L133.46 486.36 L134.46 486.36 L135.46 486.36 L136.46 486.36 L137.45 486.36 L138.45 486.36 L139.45 486.36 L140.45 486.36 L141.45 486.36 L142.44 486.36 L143.44 486.36 L144.44 486.36 L145.44 486.36 L146.44 486.36 L147.43 486.36 L148.43 486.36 L149.43 486.36 L150.43 486.36 L151.42 486.36 L152.42 486.36 L153.42 486.36 L154.42 486.36 L155.42 486.36 L156.41 486.36 L157.41 486.36 L158.41 486.36 L159.41 486.36 L160.41 486.36 L161.40 486.36 L162.40 486.36 L163.40 486.36 L164.40 486.36 L165.39 486.36 L166.39 486.36 L167.39 486.36 L168.39 486.36 L169.39 486.36 L170.38 486.36 L171.38 486.36 L172.38 486.36 L173.38 486.36 L174.38 486.36 L175.37 486.36 L176.37 486.36 L177.37 486.36 L178.37 486.36 L179.36 486.36 L180.36 486.36 L181.36 486.36 L182.36 486.36 L183.36 486.36 L184.35 486.36 L185.35 486.36 L186.35 486.36 L187.35 486.36 L188.35 486.36 L189.34 486.36 L190.34 486.36 L191.34 486.36 L192.34 486.36 L193.34 486.36 L194.33 486.36 L195.33 486.36 L196.33 486.36 L197.33 486.36 L198.32 486.36 L199.32 486.36 L200.32 486.36 L201.32 486.36 L202.32 486.36 L203.31 486.36 L204.31 486.36 L205.31 486.36 L206.31 486.36 L207.31 486.36 L208.30 486.36 L209.30 486.36 L210.30 486.36 L211.30 486.36 L212.29 486.36 L213.29 486.36 L214.29 486.36 L215.29 486.36 L216.29 486.36 L217.28 486.36 L218.28 486.36 L219.28 486.36 L220.28 486.36 L221.28 486.36 L222.27 486.36 L223.27 486.36 L224.27 486.36 L225.27 486.36 L226.26 486.36 L227.26 486.36 L228.26 486.36 L229.26 486.36 L230.26 486.36 L231.25 486.36 L232.25 486.36 L233.25 486.36 L234.25 486.36 L235.25 486.36 L236.24 486.36 L237.24 486.36 L238.24 486.36 L239.24 486.36 L240.23 486.36 L241.23 486.36 L242.23 486.36 L243.23 486.36 L244.23 486.36 L245.22 486.36 L246.22 486.36 L247.22 486.36 L248.22 486.36 L249.22 486.36 L250.21 486.36 L251.21 486.36 L252.21 486.36 L253.21 486.36 L254.20 486.36 L255.20 486.36 L256.20 486.36 L257.20 486.36 L258.20 486.36 L259.19 486.36 L260.19 486.36 L261.19 486.36 L262.19 486.36 L263.19 486.36 L264.18 486.36 L265.18 486.36 L266.18 486.36 L267.18 486.36 L268.17 486.36 L269.17 486.36 L270.17 486.36 L271.17 486.36 L272.17 486.36 L273.16 486.36 L274.16 486.36 L275.16 486.36 L276.16 486.36 L277.16 486.36 L278.15 486.36 L279.15 486.36 L280.15 486.36 L281.15 486.36 L282.14 486.36 L283.14 486.36 L284.14 486.36 L285.14 486.36 L286.14 486.36 L287.13 486.36 L288.13 486.36 L289.13 486.36 L290.13 486.36 L291.13 486.36 L292.12 486.36 L293.12 486.36 L294.12 486.36 L295.12 486.36 L296.11 486.36 L297.11 486.36 L298.11 486.36 L299.11 486.36 L300.11 486.36 L301.10 486.36 L302.10 486.36 L303.10 486.36 L304.10 486.36 L305.10 486.36 L306.09 486.36 L307.09 486.36 L308.09 486.36 L309.09 486.36 L310.09 486.36 L311.08 486.36 L312.08 486.36 L313.08 486.36 L314.08 486.36 L315.07 486.36 L316.07 486.36 L317.07 486.36 L318.07 486.36 L319.07 486.36 L320.06 486.36 L321.06 486.36 L322.06 486.36 L323.06 486.36 L324.06 486.36 L325.05 486.36 L326.05 486.36 L327.05 486.36 L328.05 486.36 L329.04 486.36 L330.04 486.36 L331.04 486.36 L332.04 486.36 L333.04 486.36 L334.03 486.36 L335.03 486.36 L336.03 486.36 L337.03 486.36 L338.03 486.36 L339.02 486.36 L340.02 486.36 L341.02 486.36 L342.02 486.36 L343.01 486.36 L344.01 486.36 L345.01 486.36 L346.01 486.36 L347.01 486.36 L348.00 486.36 L349.00 486.36 L350.00 486.36 L351.00 486.36 L352.00 486.36 L352.99 486.36 L353.99 486.36 L354.99 486.36 L355.99 486.36 L356.98 486.36 L357.98 486.36 L358.98 486.36 L359.98 486.36 L360.98 486.36 L361.97 486.36 L362.97 486.36 L363.97 486.36 L364.97 486.36 L365.97 486.36 L366.96 486.36 L367.96 486.36 L368.96 486.36 L369.96 486.36 L370.95 486.36 L371.95 486.36 L372.95 486.36 L373.95 486.36 L374.95 486.36 L375.94 486.36 L376.94 486.36 L377.94 486.36 L378.94 486.36 L379.94 486.36 L380.93 486.36 L381.93 486.36 L382.93 486.36 L383.93 486.36 L384.92 486.36 L385.92 486.36 L386.92 486.36 L387.92 486.36 L388.92 486.36 L389.91 486.36 L390.91 486.36 L391.91 486.36 L392.91 486.36 L393.91 486.36 L394.90 486.36 L395.90 486.36 L396.90 486.36 L397.90 486.36 L398.89 486.36 L399.89 486.36 L400.89 486.36 L401.89 486.36 L402.89 486.36 L403.88 486.36 L404.88 486.36 L405.88 486.36 L406.88 486.36 L407.88 486.36 L408.87 486.36 L409.87 486.36 L410.87 486.36 L411.87 486.36 L412.86 486.36 L413.86 486.36 L414.86 486.36 L415.86 486.36 L416.86 486.36 L417.85 486.36 L418.85 486.36 L419.85 486.36 L420.85 486.36 L421.85 486.36 L422.84 486.36 L423.84 486.36 L424.84 486.36 L425.84 486.36 L426.84 486.36 L427.83 486.36 L428.83 486.36 L429.83 486.36 L430.83 486.36 L431.82 486.36 L432.82 486.36 L433.82 486.36 L434.82 486.36 L435.82 486.36 L436.81 486.36 L437.81 486.36 L438.81 486.36 L439.81 486.36 L440.81 486.36 L441.80 486.36 L442.80 486.36 L443.80 486.36 L444.80 486.36 L445.79 486.36 L446.79 486.36 L447.79 486.36 L448.79 486.36 L449.79 486.36 L450.78 486.36 L451.78 486.36 L452.78 486.36 L453.78 486.36 L454.78 486.36 L455.77 486.36 L456.77 486.36 L457.77 486.36 L458.77 486.36 L459.76 486.36 L460.76 486.36 L461.76 486.36 L462.76 486.36 L463.76 486.36 L464.75 486.36 L465.75 486.36 L466.75 486.36 L467.75 486.36 L468.75 486.36 L469.74 486.36 L470.74 486.36 L471.74 486.36 L472.74 486.36 L473.73 486.36 L474.73 486.36 L475.73 486.36 L476.73 486.36 L477.73 486.36 L478.72 486.36 L479.72 486.36 L480.72 486.36 L481.72 486.36 L482.72 486.36 L483.71 486.36 L484.71 486.36 L485.71 486.36 L486.71 486.36 L487.70 486.36 L488.70 486.36 L489.70 486.36 L490.70 486.36 L491.70 486.36 L492.69 486.36 L493.69 486.36 L494.69 486.36 L495.69 486.36 L496.69 486.36 L497.68 486.36 L498.68 486.36 L499.68 486.36 L500.68 486.36 L501.67 486.36 L502.67 486.36 L503.67 486.36 L504.67 486.36 L505.67 486.36 L506.66 486.36 L507.66 486.36 L508.66 486.36 L509.66 486.36 L510.66 486.36 L511.65 486.36 L512.65 486.36 L513.65 486.36 L514.65 486.36 L515.64 486.36 L516.64 486.36 L517.64 486.36 L518.64 486.36 L519.64 486.36 L520.63 486.36 L521.63 486.36 L522.63 486.36 L523.63 486.36 L524.63 486.36 L525.62 486.36 L526.62 486.36 L527.62 486.36 L528.62 486.36 L529.61 486.36 L530.61 486.36 L531.61 486.36 L532.61 486.36 L533.61 486.36 L534.60 486.36 L535.60 486.36 L536.60 486.36" stroke="#00008b"/>
<path d="M69.60 511.10 L70.60 511.14 L71.60 511.18 L72.59 511.22 L73.59 511.26 L74.59 511.30 L75.59 511.34 L76.59 511.37 L77.58 511.42 L78.58 511.46 L79.58 511.50 L80.58 511.54 L81.57 511.58 L82.57 511.62 L83.57 511.66 L84.57 511.70 L85.57 511.74 L86.56 511.79 L87.56 511.83 L88.56 511.87 L89.56 511.91 L90.56 511.96 L91.55 512.00 L92.55 512.04 L93.55 512.08 L94.55 512.13 L95.54 512.17 L96.54 512.21 L97.54 512.26 L98.54 512.30 L99.54 512.35 L100.53 512.39 L101.53 512.43 L102.53 512.48 L103.53 512.52 L104.53 512.57 L105.52 512.61 L106.52 512.66 L107.52 512.70 L108.52 512.75 L109.51 512.79 L110.51 512.84 L111.51 512.88 L112.51 512.93 L113.51 512.97 L114.50 513.02 L115.50 513.06 L116.50 513.11 L117.50 513.15 L118.50 513.20 L119.49 513.25 L120.49 513.29 L121.49 513.34 L122.49 513.39 L123.48 513.44 L124.48 513.49 L125.48 513.53 L126.48 513.58 L127.48 513.63 L128.47 513.68 L129.47 513.73 L130.47 513.78 L131.47 513.83 L132.47 513.88 L133.46 513.93 L134.46 513.98 L135.46 514.03 L136.46 514.09 L137.45 514.14 L138.45 514.19 L139.45 514.24 L140.45 514.29 L141.45 514.34 L142.44 514.40 L143.44 514.45 L144.44 514.50 L145.44 514.56 L146.44 514.61 L147.43 514.66 L148.43 514.71 L149.43 514.77 L150.43 514.82 L151.42 514.88 L152.42 514.93 L153.42 514.98 L154.42 515.04 L155.42 515.09 L156.41 515.14 L157.41 515.20 L158.41 515.25 L159.41 515.31 L160.41 515.36 L161.40 515.41 L162.40 515.47 L163.40 515.52 L164.40 515.58 L165.39 515.63 L166.39 515.69 L167.39 515.74 L168.39 515.80 L169.39 515.86 L170.38 515.92 L171.38 515.98 L172.38 516.04 L173.38 516.10 L174.38 516.16 L175.37 516.22 L176.37 516.28 L177.37 516.34 L178.37 516.41 L179.36 516.47 L180.36 516.54 L181.36 516.60 L182.36 516.67 L183.36 516.73 L184.35 516.80 L185.35 516.87 L186.35 516.94 L187.35 517.00 L188.35 517.07 L189.34 517.14 L190.34 517.22 L191.34 517.29 L192.34 517.36 L193.34 517.43 L194.33 517.50 L195.33 517.58 L196.33 517.65 L197.33 517.73 L198.32 517.80 L199.32 517.88 L200.32 517.95 L201.32 518.03 L202.32 518.11 L203.31 518.19 L204.31 518.27 L205.31 518.34 L206.31 518.42 L207.31 518.50 L208.30 518.59 L209.30 518.67 L210.30 518.75 L211.30 518.83 L212.29 518.92 L213.29 519.01 L214.29 519.10 L215.29 519.19 L216.29 519.28 L217.28 519.37 L218.28 519.47 L219.28 519.56 L220.28 519.66 L221.28 519.76 L222.27 519.86 L223.27 519.97 L224.27 520.07 L225.27 520.18 L226.26 520.28 L227.26 520.39 L228.26 520.50 L229.26 520.61 L230.26 520.73 L231.25 520.84 L232.25 520.96 L233.25 521.07 L234.25 521.19 L235.25 521.31 L236.24 521.43 L237.24 521.55 L238.24 521.67 L239.24 521.79 L240.23 521.92 L241.23 522.04 L242.23 522.17 L243.23 522.29 L244.23 522.42 L245.22 522.55 L246.22 522.68 L247.22 522.81 L248.22 522.94 L249.22 523.08 L250.21 523.21 L251.21 523.34 L252.21 523.48 L253.21 523.61 L254.20 523.75 L255.20 523.88 L256.20 524.02 L257.20 524.16 L258.20 524.30 L259.19 524.44 L260.19 524.58 L261.19 524.73 L262.19 524.87 L263.19 525.02 L264.18 525.17 L265.18 525.32 L266.18 525.47 L267.18 525.62 L268.17 525.77 L269.17 525.92 L270.17 526.08 L271.17 526.23 L272.17 526.39 L273.16 526.54 L274.16 526.70 L275.16 526.86 L276.16 527.02 L277.16 527.17 L278.15 527.33 L279.15 527.49 L280.15 527.65 L281.15 527.81 L282.14 527.97 L283.14 528.13 L284.14 528.29 L285.14 528.45 L286.14 528.61 L287.13 528.77 L288.13 528.94 L289.13 529.10 L290.13 529.26 L291.13 529.42 L292.12 529.58 L293.12 529.74 L294.12 529.89 L295.12 530.05 L296.11 530.21 L297.11 530.37 L298.11 530.53 L299.11 530.68 L300.11 530.84 L301.10 530.99 L302.10 531.15 L303.10 531.30 L304.10 531.45 L305.10 531.60 L306.09 531.75 L307.09 531.90 L308.09 532.04 L309.09 532.19 L310.09 532.33 L311.08 532.47 L312.08 532.61 L313.08 532.75 L314.08 532.88 L315.07 533.02 L316.07 533.15 L317.07 533.28 L318.07 533.41 L319.07 533.54 L320.06 533.67 L321.06 533.79 L322.06 533.92 L323.06 534.04 L324.06 534.17 L325.05 534.29 L326.05 534.41 L327.05 534.53 L328.05 534.64 L329.04 534.76 L330.04 534.88 L331.04 534.99 L332.04 535.11 L333.04 535.22 L334.03 535.33 L335.03 535.44 L336.03 535.55 L337.03 535.66 L338.03 535.77 L339.02 535.88 L340.02 535.99 L341.02 536.09 L342.02 536.20 L343.01 536.30 L344.01 536.41 L345.01 536.51 L346.01 536.61 L347.01 536.72 L348.00 536.82 L349.00 536.92 L350.00 537.02 L351.00 537.09 L352.00 537.13 L352.99 537.13 L353.99 537.10 L354.99 537.03 L355.99 536.93 L356.98 536.80 L357.98 536.63 L358.98 536.43 L359.98 536.21 L360.98 535.95 L361.97 535.66 L362.97 535.35 L363.97 535.01 L364.97 534.65 L365.97 534.25 L366.96 533.84 L367.96 533.40 L368.96 532.94 L369.96 532.45 L370.95 531.95 L371.95 531.42 L372.95 530.88 L373.95 530.31 L374.95 529.73 L375.94 529.13 L376.94 528.52 L377.94 527.89 L378.94 527.24 L379.94 526.59 L380.93 525.92 L381.93 525.23 L382.93 524.54 L383.93 523.83 L384.92 523.12 L385.92 522.39 L386.92 521.66 L387.92 520.92 L388.92 520.18 L389.91 519.43 L390.91 518.67 L391.91 517.92 L392.91 517.15 L393.91 516.39 L394.90 515.63 L395.90 514.86 L396.90 514.09 L397.90 513.23 L398.89 512.29 L399.89 511.26 L400.89 510.15 L401.89 508.96 L402.89 507.70 L403.88 506.37 L404.88 504.97 L405.88 503.51 L406.88 502.00 L407.88 500.44 L408.87 498.84 L409.87 497.19 L410.87 495.50 L411.87 493.78 L412.86 492.04 L413.86 490.27 L414.86 488.48 L415.86 486.68 L416.86 484.86 L417.85 483.05 L418.85 481.23 L419.85 479.41 L420.85 477.61 L421.85 475.81 L422.84 474.04 L423.84 472.28 L424.84 470.56 L425.84 468.86 L426.84 467.20 L427.83 465.58 L428.83 464.00 L429.83 462.48 L430.83 461.00 L431.82 459.59 L432.82 458.23 L433.82 456.95 L434.82 455.74 L435.82 454.60 L436.81 453.54 L437.81 452.57 L438.81 451.69 L439.81 450.91 L440.81 450.22 L441.80 449.63 L442.80 449.16 L443.80 448.78 L444.80 448.42 L445.79 448.09 L446.79 447.77 L447.79 447.46 L448.79 447.17 L449.79 446.90 L450.78 446.65 L451.78 446.41 L452.78 446.19 L453.78 445.98 L454.78 445.79 L455.77 445.62 L456.77 445.45 L457.77 445.31 L458.77 445.17 L459.76 445.06 L460.76 444.95 L461.76 444.86 L462.76 444.78 L463.76 444.72 L464.75 444.67 L465.75 444.63 L466.75 444.60 L467.75 444.59 L468.75 444.58 L469.74 444.59 L470.74 444.61 L471.74 444.64 L472.74 444.69 L473.73 444.74 L474.73 444.81 L475.73 444.88 L476.73 444.96 L477.73 445.06 L478.72 445.16 L479.72 445.27 L480.72 445.40 L481.72 445.53 L482.72 445.67 L483.71 445.81 L484.71 445.97 L485.71 446.13 L486.71 446.30 L487.70 446.48 L488.70 446.67 L489.70 446.86 L490.70 447.06 L491.70 447.25 L492.69 447.45 L493.69 447.64 L494.69 447.83 L495.69 448.02 L496.69 448.21 L497.68 448.40 L498.68 448.60 L499.68 448.79 L500.68 448.98 L501.67 449.17 L502.67 449.37 L503.67 449.56 L504.67 449.76 L505.67 449.96 L506.66 450.17 L507.66 450.37 L508.66 450.58 L509.66 450.79 L510.66 451.00 L511.65 451.22 L512.65 451.44 L513.65 451.67 L514.65 451.90 L515.64 452.13 L516.64 452.37 L517.64 452.62 L518.64 452.87 L519.64 453.13 L520.63 453.39 L521.63 453.66 L522.63 453.93 L523.63 454.21 L524.63 454.50 L525.62 454.80 L526.62 455.10 L527.62 455.41 L528.62 455.73 L529.61 456.06 L530.61 456.39 L531.61 456.74 L532.61 457.09 L533.61 457.45 L534.60 457.83 L535.60 458.21 L536.60 458.60" stroke="#ffa500"/>
<path d="M69.60 479.65 L70.60 479.67 L71.60 479.68 L72.59 479.70 L73.59 479.72 L74.59 479.74 L75.59 479.76 L76.59 479.78 L77.58 479.80 L78.58 479.82 L79.58 479.84 L80.58 479.86 L81.57 479.88 L82.57 479.90 L83.57 479.92 L84.57 479.94 L85.57 479.96 L86.56 479.98 L87.56 480.00 L88.56 480.02 L89.56 480.05 L90.56 480.07 L91.55 480.09 L92.55 480.11 L93.55 480.14 L94.55 480.16 L95.54 480.18 L96.54 480.21 L97.54 480.23 L98.54 480.25 L99.54 480.28 L100.53 480.30 L101.53 480.33 L102.53 480.35 L103.53 480.38 L104.53 480.40 L105.52 480.42 L106.52 480.45 L107.52 480.47 L108.52 480.50 L109.51 480.53 L110.51 480.55 L111.51 480.58 L112.51 480.60 L113.51 480.63 L114.50 480.65 L115.50 480.68 L116.50 480.71 L117.50 480.73 L118.50 480.76 L119.49 480.78 L120.49 480.81 L121.49 480.84 L122.49 480.87 L123.48 480.90 L124.48 480.92 L125.48 480.95 L126.48 480.98 L127.48 481.01 L128.47 481.04 L129.47 481.07 L130.47 481.10 L131.47 481.13 L132.47 481.16 L133.46 481.19 L134.46 481.22 L135.46 481.26 L136.46 481.29 L137.45 481.32 L138.45 481.35 L139.45 481.39 L140.45 481.42 L141.45 481.45 L142.44 481.49 L143.44 481.52 L144.44 481.56 L145.44 481.59 L146.44 481.63 L147.43 481.66 L148.43 481.70 L149.43 481.73 L150.43 481.77 L151.42 481.81 L152.42 481.84 L153.42 481.88 L154.42 481.92 L155.42 481.95 L156.41 481.99 L157.41 482.03 L158.41 482.07 L159.41 482.11 L160.41 482.15 L161.40 482.19 L162.40 482.23 L163.40 482.27 L164.40 482.31 L165.39 482.35 L166.39 482.39 L167.39 482.44 L168.39 482.48 L169.39 482.53 L170.38 482.57 L171.38 482.62 L172.38 482.67 L173.38 482.72 L174.38 482.77 L175.37 482.82 L176.37 482.87 L177.37 482.92 L178.37 482.97 L179.36 483.02 L180.36 483.08 L181.36 483.13 L182.36 483.19 L183.36 483.24 L184.35 483.30 L185.35 483.35 L186.35 483.41 L187.35 483.47 L188.35 483.52 L189.34 483.58 L190.34 483.64 L191.34 483.70 L192.34 483.76 L193.34 483.82 L194.33 483.88 L195.33 483.94 L196.33 484.00 L197.33 484.06 L198.32 484.12 L199.32 484.18 L200.32 484.24 L201.32 484.30 L202.32 484.36 L203.31 484.42 L204.31 484.48 L205.31 484.54 L206.31 484.60 L207.31 484.66 L208.30 484.72 L209.30 484.78 L210.30 484.84 L211.30 484.90 L212.29 484.96 L213.29 485.02 L214.29 485.08 L215.29 485.15 L216.29 485.22 L217.28 485.28 L218.28 485.35 L219.28 485.42 L220.28 485.49 L221.28 485.56 L222.27 485.63 L223.27 485.70 L224.27 485.77 L225.27 485.84 L226.26 485.92 L227.26 485.99 L228.26 486.07 L229.26 486.14 L230.26 486.22 L231.25 486.30 L232.25 486.38 L233.25 486.45 L234.25 486.53 L235.25 486.61 L236.24 486.69 L237.24 486.77 L238.24 486.86 L239.24 486.94 L240.23 487.02 L241.23 487.10 L242.23 487.19 L243.23 487.27 L244.23 487.35 L245.22 487.44 L246.22 487.52 L247.22 487.61 L248.22 487.69 L249.22 487.78 L250.21 487.86 L251.21 487.95 L252.21 488.04 L253.21 488.12 L254.20 488.21 L255.20 488.30 L256.20 488.38 L257.20 488.47 L258.20 488.56 L259.19 488.65 L260.19 488.75 L261.19 488.85 L262.19 488.95 L263.19 489.05 L264.18 489.15 L265.18 489.26 L266.18 489.37 L267.18 489.49 L268.17 489.60 L269.17 489.72 L270.17 489.84 L271.17 489.96 L272.17 490.09 L273.16 490.22 L274.16 490.35 L275.16 490.48 L276.16 490.62 L277.16 490.76 L278.15 490.90 L279.15 491.05 L280.15 491.19 L281.15 491.34 L282.14 491.50 L283.14 491.65 L284.14 491.81 L285.14 491.98 L286.14 492.14 L287.13 492.31 L288.13 492.48 L289.13 492.65 L290.13 492.83 L291.13 493.01 L292.12 493.19 L293.12 493.38 L294.12 493.57 L295.12 493.76 L296.11 493.95 L297.11 494.15 L298.11 494.35 L299.11 494.55 L300.11 494.76 L301.10 494.97 L302.10 495.18 L303.10 495.40 L304.10 495.62 L305.10 495.85 L306.09 496.08 L307.09 496.31 L308.09 496.55 L309.09 496.80 L310.09 497.05 L311.08 497.30 L312.08 497.56 L313.08 497.82 L314.08 498.09 L315.07 498.36 L316.07 498.63 L317.07 498.91 L318.07 499.19 L319.07 499.47 L320.06 499.76 L321.06 500.05 L322.06 500.34 L323.06 500.63 L324.06 500.93 L325.05 501.22 L326.05 501.52 L327.05 501.83 L328.05 502.13 L329.04 502.43 L330.04 502.74 L331.04 503.04 L332.04 503.35 L333.04 503.66 L334.03 503.97 L335.03 504.28 L336.03 504.59 L337.03 504.90 L338.03 505.21 L339.02 505.52 L340.02 505.82 L341.02 506.13 L342.02 506.44 L343.01 506.75 L344.01 507.05 L345.01 507.36 L346.01 507.66 L347.01 507.96 L348.00 508.26 L349.00 508.56 L350.00 508.86 L351.00 509.18 L352.00 509.52 L352.99 509.90 L353.99 510.30 L354.99 510.73 L355.99 511.17 L356.98 511.64 L357.98 512.12 L358.98 512.63 L359.98 513.14 L360.98 513.67 L361.97 514.21 L362.97 514.76 L363.97 515.32 L364.97 515.88 L365.97 516.45 L366.96 517.01 L367.96 517.58 L368.96 518.15 L369.96 518.71 L370.95 519.26 L371.95 519.81 L372.95 520.35 L373.95 520.87 L374.95 521.38 L375.94 521.88 L376.94 522.36 L377.94 522.82 L378.94 523.26 L379.94 523.68 L380.93 524.07 L381.93 524.44 L382.93 524.78 L383.93 525.09 L384.92 525.36 L385.92 525.60 L386.92 525.81 L387.92 525.98 L388.92 526.11 L389.91 526.19 L390.91 526.24 L391.91 526.24 L392.91 526.19 L393.91 526.09 L394.90 525.95 L395.90 525.75 L396.90 525.49 L397.90 525.21 L398.89 524.90 L399.89 524.57 L400.89 524.22 L401.89 523.84 L402.89 523.44 L403.88 523.02 L404.88 522.59 L405.88 522.13 L406.88 521.66 L407.88 521.16 L408.87 520.66 L409.87 520.14 L410.87 519.60 L411.87 519.05 L412.86 518.49 L413.86 517.91 L414.86 517.32 L415.86 516.73 L416.86 516.12 L417.85 515.51 L418.85 514.89 L419.85 514.26 L420.85 513.63 L421.85 512.99 L422.84 512.35 L423.84 511.71 L424.84 511.06 L425.84 510.41 L426.84 509.76 L427.83 509.11 L428.83 508.47 L429.83 507.82 L430.83 507.18 L431.82 506.54 L432.82 505.91 L433.82 505.28 L434.82 504.66 L435.82 504.04 L436.81 503.43 L437.81 502.84 L438.81 502.25 L439.81 501.67 L440.81 501.11 L441.80 500.55 L442.80 500.01 L443.80 499.48 L444.80 498.96 L445.79 498.43 L446.79 497.90 L447.79 497.37 L448.79 496.84 L449.79 496.31 L450.78 495.78 L451.78 495.25 L452.78 494.72 L453.78 494.20 L454.78 493.67 L455.77 493.14 L456.77 492.61 L457.77 492.08 L458.77 491.55 L459.76 491.03 L460.76 490.50 L461.76 489.97 L462.76 489.45 L463.76 488.92 L464.75 488.40 L465.75 487.87 L466.75 487.35 L467.75 486.83 L468.75 486.31 L469.74 485.79 L470.74 485.27 L471.74 484.75 L472.74 484.24 L473.73 483.72 L474.73 483.21 L475.73 482.70 L476.73 482.18 L477.73 481.68 L478.72 481.17 L479.72 480.66 L480.72 480.16 L481.72 479.65 L482.72 479.15 L483.71 478.65 L484.71 478.15 L485.71 477.66 L486.71 477.17 L487.70 476.67 L488.70 476.18 L489.70 475.70 L490.70 475.22 L491.70 474.76 L492.69 474.33 L493.69 473.91 L494.69 473.52 L495.69 473.14 L496.69 472.79 L497.68 472.45 L498.68 472.13 L499.68 471.83 L500.68 471.55 L501.67 471.29 L502.67 471.04 L503.67 470.81 L504.67 470.59 L505.67 470.39 L506.66 470.21 L507.66 470.04 L508.66 469.88 L509.66 469.74 L510.66 469.61 L511.65 469.50 L512.65 469.40 L513.65 469.30 L514.65 469.23 L515.64 469.16 L516.64 469.10 L517.64 469.05 L518.64 469.01 L519.64 468.99 L520.63 468.97 L521.63 468.96 L522.63 468.95 L523.63 468.96 L524.63 468.97 L525.62 468.99 L526.62 469.01 L527.62 469.04 L528.62 469.08 L529.61 469.12 L530.61 469.16 L531.61 469.21 L532.61 469.26 L533.61 469.32 L534.60 469.38 L535.60 469.44 L536.60 469.50" stroke="#006400"/>
<path d="M69.60 504.30 L70.60 504.36 L71.60 504.42 L72.59 504.48 L73.59 504.53 L74.59 504.59 L75.59 504.66 L76.59 504.72 L77.58 504.78 L78.58 504.84 L79.58 504.90 L80.58 504.97 L81.57 505.03 L82.57 505.09 L83.57 505.16 L84.57 505.22 L85.57 505.29 L86.56 505.36 L87.56 505.42 L88.56 505.49 L89.56 505.56 L90.56 505.63 L91.55 505.70 L92.55 505.77 L93.55 505.84 L94.55 505.91 L95.54 505.98 L96.54 506.05 L97.54 506.12 L98.54 506.20 L99.54 506.27 L100.53 506.34 L101.53 506.42 L102.53 506.49 L103.53 506.57 L104.53 506.65 L105.52 506.72 L106.52 506.80 L107.52 506.88 L108.52 506.96 L109.51 507.04 L110.51 507.12 L111.51 507.20 L112.51 507.28 L113.51 507.37 L114.50 507.45 L115.50 507.53 L116.50 507.62 L117.50 507.70 L118.50 507.79 L119.49 507.87 L120.49 507.96 L121.49 508.05 L122.49 508.14 L123.48 508.23 L124.48 508.32 L125.48 508.41 L126.48 508.50 L127.48 508.59 L128.47 508.68 L129.47 508.78 L130.47 508.87 L131.47 508.96 L132.47 509.06 L133.46 509.15 L134.46 509.25 L135.46 509.34 L136.46 509.44 L137.45 509.54 L138.45 509.63 L139.45 509.73 L140.45 509.83 L141.45 509.93 L142.44 510.03 L143.44 510.13 L144.44 510.22 L145.44 510.32 L146.44 510.42 L147.43 510.52 L148.43 510.62 L149.43 510.72 L150.43 510.82 L151.42 510.93 L152.42 511.03 L153.42 511.13 L154.42 511.23 L155.42 511.33 L156.41 511.43 L157.41 511.53 L158.41 511.63 L159.41 511.73 L160.41 511.84 L161.40 511.94 L162.40 512.04 L163.40 512.14 L164.40 512.24 L165.39 512.35 L166.39 512.45 L167.39 512.55 L168.39 512.66 L169.39 512.76 L170.38 512.87 L171.38 512.98 L172.38 513.09 L173.38 513.19 L174.38 513.30 L175.37 513.41 L176.37 513.52 L177.37 513.64 L178.37 513.75 L179.36 513.86 L180.36 513.97 L181.36 514.09 L182.36 514.20 L183.36 514.32 L184.35 514.43 L185.35 514.55 L186.35 514.67 L187.35 514.79 L188.35 514.91 L189.34 515.02 L190.34 515.14 L191.34 515.27 L192.34 515.39 L193.34 515.51 L194.33 515.63 L195.33 515.76 L196.33 515.88 L197.33 516.00 L198.32 516.13 L199.32 516.25 L200.32 516.38 L201.32 516.51 L202.32 516.64 L203.31 516.76 L204.31 516.89 L205.31 517.02 L206.31 517.15 L207.31 517.28 L208.30 517.42 L209.30 517.55 L210.30 517.68 L211.30 517.82 L212.29 517.96 L213.29 518.10 L214.29 518.25 L215.29 518.40 L216.29 518.56 L217.28 518.71 L218.28 518.88 L219.28 519.04 L220.28 519.21 L221.28 519.38 L222.27 519.55 L223.27 519.73 L224.27 519.91 L225.27 520.09 L226.26 520.28 L227.26 520.47 L228.26 520.66 L229.26 520.85 L230.26 521.05 L231.25 521.25 L232.25 521.45 L233.25 521.65 L234.25 521.85 L235.25 522.06 L236.24 522.27 L237.24 522.48 L238.24 522.69 L239.24 522.91 L240.23 523.12 L241.23 523.34 L242.23 523.56 L243.23 523.78 L244.23 524.00 L245.22 524.23 L246.22 524.45 L247.22 524.68 L248.22 524.91 L249.22 525.13 L250.21 525.36 L251.21 525.59 L252.21 525.82 L253.21 526.06 L254.20 526.29 L255.20 526.52 L256.20 526.75 L257.20 526.99 L258.20 527.23 L259.19 527.47 L260.19 527.71 L261.19 527.96 L262.19 528.22 L263.19 528.47 L264.18 528.73 L265.18 529.00 L266.18 529.26 L267.18 529.53 L268.17 529.80 L269.17 530.07 L270.17 530.35 L271.17 530.63 L272.17 530.91 L273.16 531.20 L274.16 531.48 L275.16 531.77 L276.16 532.06 L277.16 532.35 L278.15 532.65 L279.15 532.94 L280.15 533.24 L281.15 533.54 L282.14 533.84 L283.14 534.14 L284.14 534.45 L285.14 534.75 L286.14 535.05 L287.13 535.36 L288.13 535.67 L289.13 535.98 L290.13 536.28 L291.13 536.59 L292.12 536.90 L293.12 537.21 L294.12 537.52 L295.12 537.83 L296.11 538.14 L297.11 538.45 L298.11 538.76 L299.11 539.07 L300.11 539.38 L301.10 539.69 L302.10 539.99 L303.10 540.30 L304.10 540.61 L305.10 540.93 L306.09 541.26 L307.09 541.60 L308.09 541.95 L309.09 542.30 L310.09 542.67 L311.08 543.04 L312.08 543.41 L313.08 543.80 L314.08 544.19 L315.07 544.58 L316.07 544.98 L317.07 545.39 L318.07 545.80 L319.07 546.21 L320.06 546.63 L321.06 547.06 L322.06 547.48 L323.06 547.91 L324.06 548.35 L325.05 548.78 L326.05 549.22 L327.05 549.66 L328.05 550.10 L329.04 550.54 L330.04 550.98 L331.04 551.42 L332.04 551.86 L333.04 552.30 L334.03 552.74 L335.03 553.18 L336.03 553.62 L337.03 554.05 L338.03 554.49 L339.02 554.92 L340.02 555.34 L341.02 555.77 L342.02 556.19 L343.01 556.60 L344.01 557.02 L345.01 557.42 L346.01 557.82 L347.01 558.22 L348.00 558.61 L349.00 559.00 L350.00 559.37 L351.00 559.74 L352.00 560.08 L352.99 560.41 L353.99 560.71 L354.99 561.00 L355.99 561.26 L356.98 561.51 L357.98 561.74 L358.98 561.95 L359.98 562.13 L360.98 562.30 L361.97 562.45 L362.97 562.58 L363.97 562.69 L364.97 562.78 L365.97 562.84 L366.96 562.89 L367.96 562.92 L368.96 562.93 L369.96 562.91 L370.95 562.88 L371.95 562.83 L372.95 562.75 L373.95 562.66 L374.95 562.54 L375.94 562.40 L376.94 562.24 L377.94 562.06 L378.94 561.86 L379.94 561.64 L380.93 561.40 L381.93 561.13 L382.93 560.85 L383.93 560.54 L384.92 560.21 L385.92 559.86 L386.92 559.49 L387.92 559.10 L388.92 558.68 L389.91 558.24 L390.91 557.78 L391.91 557.30 L392.91 556.80 L393.91 556.27 L394.90 555.72 L395.90 555.15 L396.90 554.55 L397.90 553.81 L398.89 552.93 L399.89 551.90 L400.89 550.74 L401.89 549.45 L402.89 548.03 L403.88 546.49 L404.88 544.85 L405.88 543.10 L406.88 541.25 L407.88 539.32 L408.87 537.29 L409.87 535.19 L410.87 533.02 L411.87 530.78 L412.86 528.48 L413.86 526.13 L414.86 523.73 L415.86 521.29 L416.86 518.82 L417.85 516.32 L418.85 513.80 L419.85 511.26 L420.85 508.72 L421.85 506.18 L422.84 503.64 L423.84 501.11 L424.84 498.60 L425.84 496.12 L426.84 493.66 L427.83 491.24 L428.83 488.87 L429.83 486.54 L430.83 484.28 L431.82 482.07 L432.82 479.94 L433.82 477.88 L434.82 475.90 L435.82 474.01 L436.81 472.21 L437.81 470.52 L438.81 468.93 L439.81 467.46 L440.81 466.11 L441.80 464.89 L442.80 463.80 L443.80 462.82 L444.80 461.87 L445.79 460.93 L446.79 460.01 L447.79 459.09 L448.79 458.20 L449.79 457.31 L450.78 456.44 L451.78 455.58 L452.78 454.74 L453.78 453.91 L454.78 453.10 L455.77 452.30 L456.77 451.52 L457.77 450.75 L458.77 450.00 L459.76 449.26 L460.76 448.54 L461.76 447.84 L462.76 447.16 L463.76 446.49 L464.75 445.84 L465.75 445.20 L466.75 444.59 L467.75 443.99 L468.75 443.41 L469.74 442.85 L470.74 442.31 L471.74 441.79 L472.74 441.29 L473.73 440.80 L474.73 440.34 L475.73 439.89 L476.73 439.47 L477.73 439.07 L478.72 438.69 L479.72 438.33 L480.72 437.99 L481.72 437.67 L482.72 437.37 L483.71 437.10 L484.71 436.84 L485.71 436.61 L486.71 436.41 L487.70 436.22 L488.70 436.06 L489.70 435.92 L490.70 435.81 L491.70 435.69 L492.69 435.58 L493.69 435.48 L494.69 435.39 L495.69 435.30 L496.69 435.22 L497.68 435.15 L498.68 435.09 L499.68 435.03 L500.68 434.99 L501.67 434.95 L502.67 434.92 L503.67 434.90 L504.67 434.89 L505.67 434.89 L506.66 434.90 L507.66 434.92 L508.66 434.95 L509.66 435.00 L510.66 435.05 L511.65 435.12 L512.65 435.20 L513.65 435.29 L514.65 435.40 L515.64 435.52 L516.64 435.65 L517.64 435.80 L518.64 435.96 L519.64 436.13 L520.63 436.32 L521.63 436.52 L522.63 436.74 L523.63 436.98 L524.63 437.23 L525.62 437.50 L526.62 437.78 L527.62 438.08 L528.62 438.40 L529.61 438.74 L530.61 439.09 L531.61 439.46 L532.61 439.85 L533.61 440.26 L534.60 440.69 L535.60 441.13 L536.60 441.60" stroke="#ff0000"/>
</g>
<g stroke="#000" stroke-width="1" fill="none">
<path d="M69.60 31.50H536.60V583.50H69.60Z"/>
<path d="M69.60 413.50H536.60"/>
<path d="M69.60 31.50v6M69.60 407.50v12M69.60 583.50v-6M92.95 31.50v3M92.95 410.50v6M92.95 583.50v-3M116.30 31.50v6M116.30 407.50v12M116.30 583.50v-6M139.65 31.50v3M139.65 410.50v6M139.65 583.50v-3M163.00 31.50v6M163.00 407.50v12M163.00 583.50v-6M186.35 31.50v3M186.35 410.50v6M186.35 583.50v-3M209.70 31.50v6M209.70 407.50v12M209.70 583.50v-6M233.05 31.50v3M233.05 410.50v6M233.05 583.50v-3M256.40 31.50v6M256.40 407.50v12M256.40 583.50v-6M279.75 31.50v3M279.75 410.50v6M279.75 583.50v-3M303.10 31.50v6M303.10 407.50v12M303.10 583.50v-6M326.45 31.50v3M326.45 410.50v6M326.45 583.50v-3M349.80 31.50v6M349.80 407.50v12M349.80 583.50v-6M373.15 31.50v3M373.15 410.50v6M373.15 583.50v-3M396.50 31.50v6M396.50 407.50v12M396.50 583.50v-6M419.85 31.50v3M419.85 410.50v6M419.85 583.50v-3M443.20 31.50v6M443.20 407.50v12M443.20 583.50v-6M466.55 31.50v3M466.55 410.50v6M466.55 583.50v-3M489.90 31.50v6M489.90 407.50v12M489.90 583.50v-6M513.25 31.50v3M513.25 410.50v6M513.25 583.50v-3M536.60 31.50v6M536.60 407.50v12M536.60 583.50v-6M69.60 413.50h6M536.60 413.50h-6M69.60 356.00h3M536.60 356.00h-3M69.60 322.37h3M536.60 322.37h-3M69.60 298.51h3M536.60 298.51h-3M69.60 280.00h3M536.60 280.00h-3M69.60 264.87h3M536.60 264.87h-3M69.60 252.09h3M536.60 252.09h-3M69.60 241.01h3M536.60 241.01h-3M69.60 231.24h3M536.60 231.24h-3M69.60 222.50h6M536.60 222.50h-6M69.60 165.00h3M536.60 165.00h-3M69.60 131.37h3M536.60 131.37h-3M69.60 107.51h3M536.60 107.51h-3M69.60 89.00h3M536.60 89.00h-3M69.60 73.87h3M536.60 73.87h-3M69.60 61.09h3M536.60 61.09h-3M69.60 50.01h3M536.60 50.01h-3M69.60 40.24h3M536.60 40.24h-3M69.60 31.50h6M536.60 31.50h-6M69.60 583.50h6M536.60 583.50h-6M69.60 571.36h3M536.60 571.36h-3M69.60 559.21h6M536.60 559.21h-6M69.60 547.07h3M536.60 547.07h-3M69.60 534.93h6M536.60 534.93h-6M69.60 522.79h3M536.60 522.79h-3M69.60 510.64h6M536.60 510.64h-6M69.60 498.50h3M536.60 498.50h-3M69.60 486.36h6M536.60 486.36h-6M69.60 474.21h3M536.60 474.21h-3M69.60 462.07h6M536.60 462.07h-6M69.60 449.93h3M536.60 449.93h-3M69.60 437.79h6M536.60 437.79h-6M69.60 425.64h3M536.60 425.64h-3M69.60 413.50h6M536.60 413.50h-6"/>
</g>
<g stroke-width="1.05">
<path d="M291.9 54.5H330.5" stroke="#00008b"/>
<path d="M291.9 79.8H330.5" stroke="#ffa500"/>
<path d="M291.9 105.4H330.5" stroke="#006400"/>
<path d="M291.9 130.7H330.5" stroke="#ff0000"/>
</g>
<g font-family="'Liberation Serif', serif" opacity="0.999">
<text x="92.1" y="16.6" font-size="17.60" textLength="16.3" lengthAdjust="spacingAndGlyphs" font-style="italic" fill="#000">gg</text>
<path d="M116.00 12.00H131.00M126.60 7.30Q128.27 10.59 131.00 12.00Q128.27 13.41 126.60 16.70" stroke="#000" stroke-width="0.75" fill="none" stroke-linecap="round"/>
<text x="138.6" y="16.6" font-size="17.60" textLength="28.6" lengthAdjust="spacingAndGlyphs" font-style="italic" fill="#000">HH</text>
<text x="175.8" y="16.6" font-size="17.60" textLength="14.1" lengthAdjust="spacingAndGlyphs" fill="#000">at</text>
<text x="196.7" y="16.6" font-size="17.60" textLength="37.2" lengthAdjust="spacingAndGlyphs" fill="#000">NLO</text>
<text x="241.5" y="16.6" font-size="17.60" textLength="36.7" lengthAdjust="spacingAndGlyphs" fill="#000">QCD</text>
<text x="312.7" y="16.6" font-size="17.60" textLength="6.5" lengthAdjust="spacingAndGlyphs" font-style="italic" fill="#000">s</text>
<path d="M326.10 10.60H337.30M326.10 13.70H337.30" stroke="#000" stroke-width="0.75" fill="none"/>
<text x="344.0" y="16.6" font-size="17.60" textLength="16.3" lengthAdjust="spacingAndGlyphs" fill="#000">14</text>
<text x="367.8" y="16.6" font-size="17.60" textLength="29.2" lengthAdjust="spacingAndGlyphs" fill="#000">TeV</text>
<text x="417.7" y="16.6" font-size="17.60" textLength="96.7" lengthAdjust="spacingAndGlyphs" fill="#000">PDF4LHC15</text>
<path d="M288.4 4.2V20.6M406.9 4.2V20.6" stroke="#000" stroke-width="0.9" fill="none"/>
<path d="M297.9 12.4L300.0 11.4M303.4 19.3L311.2 3.2H319.8" stroke="#000" stroke-width="0.7" fill="none"/>
<path d="M299.9 11.4L303.3 19.2" stroke="#000" stroke-width="1.3" fill="none"/>
<text x="340.4" y="61.6" font-size="21.40" textLength="43.3" lengthAdjust="spacingAndGlyphs" fill="#000">HTL</text>
<text x="340.4" y="86.9" font-size="21.40" textLength="43.3" lengthAdjust="spacingAndGlyphs" fill="#000">HTL</text>
<text x="340.4" y="112.4" font-size="21.40" textLength="43.3" lengthAdjust="spacingAndGlyphs" fill="#000">HTL</text>
<path d="M392.40 82.05H407.00M399.70 74.75V89.35" stroke="#000" stroke-width="1.00" fill="none"/>
<text x="415.0" y="86.9" font-size="21.40" textLength="28.1" lengthAdjust="spacingAndGlyphs" fill="#000">full</text>
<path d="M392.40 107.55H407.00M399.70 100.25V114.85" stroke="#000" stroke-width="1.00" fill="none"/>
<text x="415.0" y="112.4" font-size="21.40" textLength="28.1" lengthAdjust="spacingAndGlyphs" fill="#000">full</text>
<text x="452.1" y="86.9" font-size="21.40" textLength="41.5" lengthAdjust="spacingAndGlyphs" fill="#000">reals</text>
<text x="452.1" y="112.4" font-size="21.40" textLength="69.2" lengthAdjust="spacingAndGlyphs" fill="#000">virtuals</text>
<text x="341.5" y="137.7" font-size="21.40" textLength="32.4" lengthAdjust="spacingAndGlyphs" fill="#000">Full</text>
<text x="383.6" y="137.7" font-size="21.40" textLength="43.3" lengthAdjust="spacingAndGlyphs" fill="#000">NLO</text>
<text x="102.6" y="329.7" font-size="21.00" textLength="14.9" lengthAdjust="spacingAndGlyphs" font-style="italic" font-weight="bold" fill="#000">σ</text>
<text x="119.0" y="330.2" font-size="24.30" textLength="5.6" lengthAdjust="spacingAndGlyphs" font-weight="bold" fill="#000">(</text>
<text x="126.5" y="329.7" font-size="21.00" textLength="23.5" lengthAdjust="spacingAndGlyphs" font-style="italic" font-weight="bold" fill="#000">gg</text>
<path d="M160.40 324.50H181.80M176.20 319.20Q178.33 322.91 181.80 324.50Q178.33 326.09 176.20 329.80" stroke="#000" stroke-width="1.20" fill="none" stroke-linecap="round"/>
<text x="190.9" y="329.7" font-size="21.00" textLength="43.6" lengthAdjust="spacingAndGlyphs" font-style="italic" font-weight="bold" fill="#000">HH</text>
<text x="236.6" y="330.2" font-size="24.30" textLength="6.6" lengthAdjust="spacingAndGlyphs" font-weight="bold" fill="#000">)</text>
<text x="261.0" y="329.6" font-size="21.60" textLength="20.0" lengthAdjust="spacingAndGlyphs" font-weight="bold" fill="#000">fb</text>
<path d="M259.8 314.7H256.8V334.5H259.8M281.2 314.7H284.3V334.5H281.2" stroke="#000" stroke-width="1.25" fill="none"/>
<text x="102.6" y="354.5" font-size="21.00" textLength="10.4" lengthAdjust="spacingAndGlyphs" font-style="italic" fill="#1a1a1a">μ</text>
<text x="115.8" y="360.7" font-size="15.20" textLength="10.5" lengthAdjust="spacingAndGlyphs" font-style="italic" fill="#1a1a1a">R</text>
<path d="M134.20 348.20H147.90M134.20 352.10H147.90" stroke="#1a1a1a" stroke-width="0.85" fill="none"/>
<text x="156.3" y="354.5" font-size="21.00" textLength="10.4" lengthAdjust="spacingAndGlyphs" font-style="italic" fill="#1a1a1a">μ</text>
<text x="168.5" y="360.7" font-size="15.20" textLength="10.8" lengthAdjust="spacingAndGlyphs" font-style="italic" fill="#1a1a1a">F</text>
<path d="M187.70 348.20H201.40M187.70 352.10H201.40" stroke="#1a1a1a" stroke-width="0.85" fill="none"/>
<text x="209.7" y="354.5" font-size="21.00" textLength="16.3" lengthAdjust="spacingAndGlyphs" font-style="italic" fill="#1a1a1a">m</text>
<text x="227.6" y="360.7" font-size="15.20" textLength="24.7" lengthAdjust="spacingAndGlyphs" font-style="italic" fill="#1a1a1a">HH</text>
<path d="M255.0 361.3L262.8 338.9" stroke="#1a1a1a" stroke-width="0.9"/>
<text x="264.2" y="354.5" font-size="21.00" textLength="10.9" lengthAdjust="spacingAndGlyphs" fill="#1a1a1a">2</text>
<text x="36.2" y="40.3" font-size="16.90" textLength="16.8" lengthAdjust="spacingAndGlyphs" fill="#000">10</text>
<text x="53.3" y="30.6" font-size="13.20" textLength="5.6" lengthAdjust="spacingAndGlyphs" fill="#000">3</text>
<text x="36.2" y="231.3" font-size="16.90" textLength="16.8" lengthAdjust="spacingAndGlyphs" fill="#000">10</text>
<text x="53.3" y="221.6" font-size="13.20" textLength="5.6" lengthAdjust="spacingAndGlyphs" fill="#000">2</text>
<text x="29.2" y="419.3" font-size="16.90" textLength="29.0" lengthAdjust="spacingAndGlyphs" fill="#000">1.15</text>
<text x="38.4" y="443.6" font-size="16.90" textLength="19.8" lengthAdjust="spacingAndGlyphs" fill="#000">1.1</text>
<text x="29.2" y="467.9" font-size="16.90" textLength="29.0" lengthAdjust="spacingAndGlyphs" fill="#000">1.05</text>
<text x="38.4" y="492.2" font-size="16.90" textLength="19.8" lengthAdjust="spacingAndGlyphs" fill="#000">1.0</text>
<text x="29.2" y="516.4" font-size="16.90" textLength="29.0" lengthAdjust="spacingAndGlyphs" fill="#000">0.95</text>
<text x="38.4" y="540.7" font-size="16.90" textLength="19.8" lengthAdjust="spacingAndGlyphs" fill="#000">0.9</text>
<text x="29.2" y="565.0" font-size="16.90" textLength="29.0" lengthAdjust="spacingAndGlyphs" fill="#000">0.85</text>
<text x="38.4" y="589.3" font-size="16.90" textLength="19.8" lengthAdjust="spacingAndGlyphs" fill="#000">0.8</text>
<text x="62.3" y="605.2" font-size="16.90" textLength="13.9" lengthAdjust="spacingAndGlyphs" fill="#000">-5</text>
<text x="109.0" y="605.2" font-size="16.90" textLength="13.9" lengthAdjust="spacingAndGlyphs" fill="#000">-4</text>
<text x="155.7" y="605.2" font-size="16.90" textLength="13.9" lengthAdjust="spacingAndGlyphs" fill="#000">-3</text>
<text x="202.4" y="605.2" font-size="16.90" textLength="13.9" lengthAdjust="spacingAndGlyphs" fill="#000">-2</text>
<text x="249.1" y="605.2" font-size="16.90" textLength="13.9" lengthAdjust="spacingAndGlyphs" fill="#000">-1</text>
<text x="299.0" y="605.2" font-size="16.90" textLength="8.2" lengthAdjust="spacingAndGlyphs" fill="#000">0</text>
<text x="345.7" y="605.2" font-size="16.90" textLength="8.2" lengthAdjust="spacingAndGlyphs" fill="#000">1</text>
<text x="392.4" y="605.2" font-size="16.90" textLength="8.2" lengthAdjust="spacingAndGlyphs" fill="#000">2</text>
<text x="439.1" y="605.2" font-size="16.90" textLength="8.2" lengthAdjust="spacingAndGlyphs" fill="#000">3</text>
<text x="485.8" y="605.2" font-size="16.90" textLength="8.2" lengthAdjust="spacingAndGlyphs" fill="#000">4</text>
<text x="532.5" y="605.2" font-size="16.90" textLength="8.2" lengthAdjust="spacingAndGlyphs" fill="#000">5</text>
<g transform="translate(18.3 570.5) rotate(-90)">
<text x="0.0" y="0.0" font-size="22.20" textLength="65.0" lengthAdjust="spacingAndGlyphs" font-weight="bold" fill="#000">Ratio</text>
<text x="70.0" y="0.0" font-size="22.20" textLength="18.5" lengthAdjust="spacingAndGlyphs" font-weight="bold" fill="#000">to</text>
<text x="96.8" y="0.0" font-size="22.20" textLength="46.7" lengthAdjust="spacingAndGlyphs" font-weight="bold" fill="#000">HTL</text>
</g>
<text x="263.3" y="630.5" font-size="20.40" textLength="11.5" lengthAdjust="spacingAndGlyphs" font-style="italic" font-weight="bold" fill="#000">λ</text>
<text x="276.3" y="635.9" font-size="10.80" textLength="10.8" lengthAdjust="spacingAndGlyphs" font-style="italic" font-weight="bold" fill="#000">H</text>
<text x="288.3" y="632.9" font-size="8.40" textLength="4.9" lengthAdjust="spacingAndGlyphs" font-weight="bold" fill="#000">3</text>
<path d="M296.8 636L303.8 614.8" stroke="#000" stroke-width="1.5"/>
<text x="306.6" y="630.5" font-size="20.40" textLength="11.1" lengthAdjust="spacingAndGlyphs" font-style="italic" font-weight="bold" fill="#000">λ</text>
<text x="319.0" y="624.2" font-size="11.20" textLength="22.5" lengthAdjust="spacingAndGlyphs" font-style="italic" font-weight="bold" fill="#000">SM</text>
<text x="319.0" y="634.7" font-size="10.80" textLength="10.8" lengthAdjust="spacingAndGlyphs" font-style="italic" font-weight="bold" fill="#000">H</text>
<text x="331.6" y="631.8" font-size="8.40" textLength="4.8" lengthAdjust="spacingAndGlyphs" font-weight="bold" fill="#000">3</text>
</g>
</svg>
</body></html>
